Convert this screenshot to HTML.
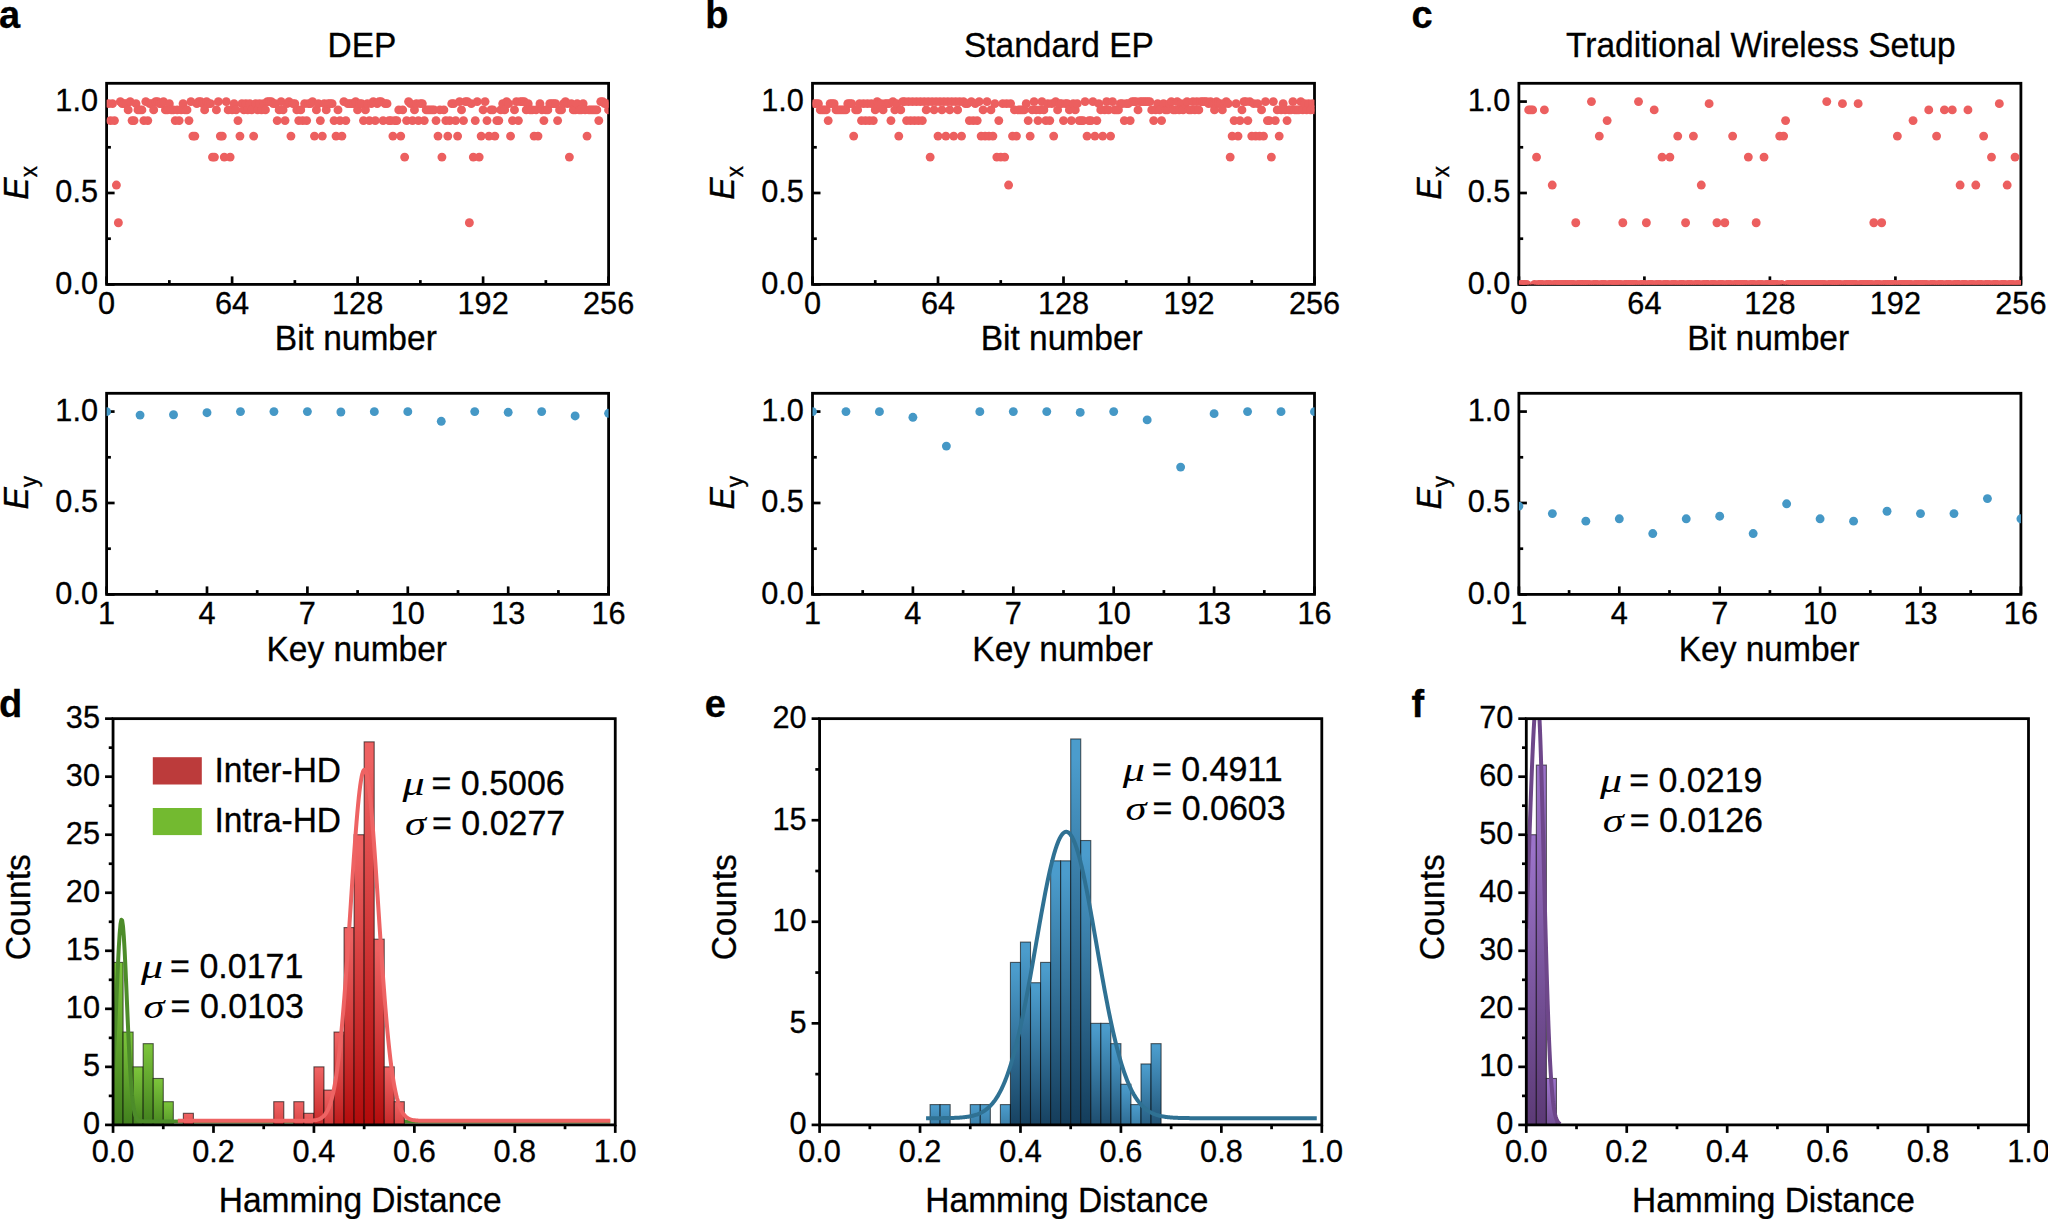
<!DOCTYPE html>
<html lang="en"><head><meta charset="utf-8"><title>Figure</title>
<style>html,body{margin:0;padding:0;background:#fff}svg{display:block}</style>
</head><body>
<svg width="2048" height="1219" viewBox="0 0 2048 1219" font-family='"Liberation Sans", sans-serif' fill="#000">
<rect width="2048" height="1219" fill="#fff"/>
<text transform="translate(-1.0,28.0) scale(1,1.02)" font-size="38" text-anchor="start" stroke="#000" stroke-width="0.3" font-weight="bold">a</text>
<text transform="translate(705.2,28.0) scale(1,1.02)" font-size="38" text-anchor="start" stroke="#000" stroke-width="0.3" font-weight="bold">b</text>
<text transform="translate(1411.5,28.0) scale(1,1.02)" font-size="38" text-anchor="start" stroke="#000" stroke-width="0.3" font-weight="bold">c</text>
<text transform="translate(-1.0,717.2) scale(1,1.02)" font-size="38" text-anchor="start" stroke="#000" stroke-width="0.3" font-weight="bold">d</text>
<text transform="translate(704.8,717.2) scale(1,1.02)" font-size="38" text-anchor="start" stroke="#000" stroke-width="0.3" font-weight="bold">e</text>
<text transform="translate(1411.5,717.2) scale(1,1.02)" font-size="38" text-anchor="start" stroke="#000" stroke-width="0.3" font-weight="bold">f</text>
<text transform="translate(362.0,57.1) scale(1,1.02)" font-size="33.5" text-anchor="middle" stroke="#000" stroke-width="0.3" >DEP</text>
<rect x="106.60" y="83.30" width="502.00" height="201.10" fill="none" stroke="#000" stroke-width="2.8"/>
<line x1="106.60" x2="106.60" y1="284.40" y2="276.40" stroke="#000" stroke-width="2.7"/>
<line x1="232.10" x2="232.10" y1="284.40" y2="276.40" stroke="#000" stroke-width="2.7"/>
<line x1="357.60" x2="357.60" y1="284.40" y2="276.40" stroke="#000" stroke-width="2.7"/>
<line x1="483.10" x2="483.10" y1="284.40" y2="276.40" stroke="#000" stroke-width="2.7"/>
<line x1="608.60" x2="608.60" y1="284.40" y2="276.40" stroke="#000" stroke-width="2.7"/>
<line x1="169.35" x2="169.35" y1="284.40" y2="280.10" stroke="#000" stroke-width="2.7"/>
<line x1="294.85" x2="294.85" y1="284.40" y2="280.10" stroke="#000" stroke-width="2.7"/>
<line x1="420.35" x2="420.35" y1="284.40" y2="280.10" stroke="#000" stroke-width="2.7"/>
<line x1="545.85" x2="545.85" y1="284.40" y2="280.10" stroke="#000" stroke-width="2.7"/>
<text transform="translate(106.6,313.5) scale(1,1.035)" font-size="30.7" text-anchor="middle" stroke="#000" stroke-width="0.3" >0</text>
<text transform="translate(232.1,313.5) scale(1,1.035)" font-size="30.7" text-anchor="middle" stroke="#000" stroke-width="0.3" >64</text>
<text transform="translate(357.6,313.5) scale(1,1.035)" font-size="30.7" text-anchor="middle" stroke="#000" stroke-width="0.3" >128</text>
<text transform="translate(483.1,313.5) scale(1,1.035)" font-size="30.7" text-anchor="middle" stroke="#000" stroke-width="0.3" >192</text>
<text transform="translate(608.6,313.5) scale(1,1.035)" font-size="30.7" text-anchor="middle" stroke="#000" stroke-width="0.3" >256</text>
<line x1="106.60" x2="114.60" y1="284.40" y2="284.40" stroke="#000" stroke-width="2.7"/>
<line x1="106.60" x2="114.60" y1="192.99" y2="192.99" stroke="#000" stroke-width="2.7"/>
<line x1="106.60" x2="114.60" y1="101.58" y2="101.58" stroke="#000" stroke-width="2.7"/>
<line x1="106.60" x2="110.90" y1="238.70" y2="238.70" stroke="#000" stroke-width="2.7"/>
<line x1="106.60" x2="110.90" y1="147.29" y2="147.29" stroke="#000" stroke-width="2.7"/>
<text transform="translate(98.0,293.7) scale(1,1.035)" font-size="30.7" text-anchor="end" stroke="#000" stroke-width="0.3" >0.0</text>
<text transform="translate(98.0,202.3) scale(1,1.035)" font-size="30.7" text-anchor="end" stroke="#000" stroke-width="0.3" >0.5</text>
<text transform="translate(98.0,110.9) scale(1,1.035)" font-size="30.7" text-anchor="end" stroke="#000" stroke-width="0.3" >1.0</text>
<clipPath id="c1"><rect x="106.60" y="83.30" width="502.00" height="201.10"/></clipPath>
<g clip-path="url(#c1)" fill="#EC5F5F">
<circle cx="108.56" cy="103.65" r="4.45"/>
<circle cx="110.52" cy="120.59" r="4.45"/>
<circle cx="112.48" cy="103.65" r="4.45"/>
<circle cx="114.44" cy="120.59" r="4.45"/>
<circle cx="116.40" cy="185.03" r="4.45"/>
<circle cx="118.37" cy="222.74" r="4.45"/>
<circle cx="120.33" cy="101.58" r="4.45"/>
<circle cx="122.29" cy="103.65" r="4.45"/>
<circle cx="124.25" cy="103.65" r="4.45"/>
<circle cx="126.21" cy="103.65" r="4.45"/>
<circle cx="128.17" cy="109.91" r="4.45"/>
<circle cx="130.13" cy="101.58" r="4.45"/>
<circle cx="132.09" cy="120.59" r="4.45"/>
<circle cx="134.05" cy="120.59" r="4.45"/>
<circle cx="136.01" cy="103.65" r="4.45"/>
<circle cx="137.97" cy="109.91" r="4.45"/>
<circle cx="139.94" cy="109.91" r="4.45"/>
<circle cx="141.90" cy="109.91" r="4.45"/>
<circle cx="143.86" cy="120.59" r="4.45"/>
<circle cx="145.82" cy="101.58" r="4.45"/>
<circle cx="147.78" cy="120.59" r="4.45"/>
<circle cx="149.74" cy="103.65" r="4.45"/>
<circle cx="151.70" cy="103.65" r="4.45"/>
<circle cx="153.66" cy="109.91" r="4.45"/>
<circle cx="155.62" cy="101.58" r="4.45"/>
<circle cx="157.58" cy="101.58" r="4.45"/>
<circle cx="159.55" cy="103.65" r="4.45"/>
<circle cx="161.51" cy="103.65" r="4.45"/>
<circle cx="163.47" cy="101.58" r="4.45"/>
<circle cx="165.43" cy="109.91" r="4.45"/>
<circle cx="167.39" cy="109.91" r="4.45"/>
<circle cx="169.35" cy="103.65" r="4.45"/>
<circle cx="171.31" cy="109.91" r="4.45"/>
<circle cx="173.27" cy="109.91" r="4.45"/>
<circle cx="175.23" cy="120.59" r="4.45"/>
<circle cx="177.19" cy="109.91" r="4.45"/>
<circle cx="179.15" cy="120.59" r="4.45"/>
<circle cx="181.12" cy="109.91" r="4.45"/>
<circle cx="183.08" cy="103.65" r="4.45"/>
<circle cx="185.04" cy="109.91" r="4.45"/>
<circle cx="187.00" cy="109.91" r="4.45"/>
<circle cx="188.96" cy="120.59" r="4.45"/>
<circle cx="190.92" cy="101.58" r="4.45"/>
<circle cx="192.88" cy="136.08" r="4.45"/>
<circle cx="194.84" cy="136.08" r="4.45"/>
<circle cx="196.80" cy="103.65" r="4.45"/>
<circle cx="198.76" cy="101.58" r="4.45"/>
<circle cx="200.72" cy="101.58" r="4.45"/>
<circle cx="202.69" cy="103.65" r="4.45"/>
<circle cx="204.65" cy="109.91" r="4.45"/>
<circle cx="206.61" cy="101.58" r="4.45"/>
<circle cx="208.57" cy="103.65" r="4.45"/>
<circle cx="210.53" cy="103.65" r="4.45"/>
<circle cx="212.49" cy="157.12" r="4.45"/>
<circle cx="214.45" cy="157.12" r="4.45"/>
<circle cx="216.41" cy="109.91" r="4.45"/>
<circle cx="218.37" cy="101.58" r="4.45"/>
<circle cx="220.33" cy="136.08" r="4.45"/>
<circle cx="222.30" cy="136.08" r="4.45"/>
<circle cx="224.26" cy="157.12" r="4.45"/>
<circle cx="226.22" cy="101.58" r="4.45"/>
<circle cx="228.18" cy="109.91" r="4.45"/>
<circle cx="230.14" cy="157.12" r="4.45"/>
<circle cx="232.10" cy="109.91" r="4.45"/>
<circle cx="234.06" cy="103.65" r="4.45"/>
<circle cx="236.02" cy="109.91" r="4.45"/>
<circle cx="237.98" cy="120.59" r="4.45"/>
<circle cx="239.94" cy="136.08" r="4.45"/>
<circle cx="241.90" cy="103.65" r="4.45"/>
<circle cx="243.87" cy="109.91" r="4.45"/>
<circle cx="245.83" cy="103.65" r="4.45"/>
<circle cx="247.79" cy="109.91" r="4.45"/>
<circle cx="249.75" cy="103.65" r="4.45"/>
<circle cx="251.71" cy="109.91" r="4.45"/>
<circle cx="253.67" cy="136.08" r="4.45"/>
<circle cx="255.63" cy="103.65" r="4.45"/>
<circle cx="257.59" cy="109.91" r="4.45"/>
<circle cx="259.55" cy="103.65" r="4.45"/>
<circle cx="261.51" cy="109.91" r="4.45"/>
<circle cx="263.48" cy="103.65" r="4.45"/>
<circle cx="265.44" cy="109.91" r="4.45"/>
<circle cx="267.40" cy="101.58" r="4.45"/>
<circle cx="269.36" cy="101.58" r="4.45"/>
<circle cx="271.32" cy="101.58" r="4.45"/>
<circle cx="273.28" cy="103.65" r="4.45"/>
<circle cx="275.24" cy="103.65" r="4.45"/>
<circle cx="277.20" cy="120.59" r="4.45"/>
<circle cx="279.16" cy="109.91" r="4.45"/>
<circle cx="281.12" cy="101.58" r="4.45"/>
<circle cx="283.08" cy="109.91" r="4.45"/>
<circle cx="285.05" cy="120.59" r="4.45"/>
<circle cx="287.01" cy="103.65" r="4.45"/>
<circle cx="288.97" cy="101.58" r="4.45"/>
<circle cx="290.93" cy="136.08" r="4.45"/>
<circle cx="292.89" cy="103.65" r="4.45"/>
<circle cx="294.85" cy="103.65" r="4.45"/>
<circle cx="296.81" cy="109.91" r="4.45"/>
<circle cx="298.77" cy="120.59" r="4.45"/>
<circle cx="300.73" cy="109.91" r="4.45"/>
<circle cx="302.69" cy="120.59" r="4.45"/>
<circle cx="304.65" cy="103.65" r="4.45"/>
<circle cx="306.62" cy="120.59" r="4.45"/>
<circle cx="308.58" cy="103.65" r="4.45"/>
<circle cx="310.54" cy="103.65" r="4.45"/>
<circle cx="312.50" cy="101.58" r="4.45"/>
<circle cx="314.46" cy="136.08" r="4.45"/>
<circle cx="316.42" cy="109.91" r="4.45"/>
<circle cx="318.38" cy="103.65" r="4.45"/>
<circle cx="320.34" cy="120.59" r="4.45"/>
<circle cx="322.30" cy="136.08" r="4.45"/>
<circle cx="324.26" cy="103.65" r="4.45"/>
<circle cx="326.23" cy="109.91" r="4.45"/>
<circle cx="328.19" cy="103.65" r="4.45"/>
<circle cx="330.15" cy="103.65" r="4.45"/>
<circle cx="332.11" cy="103.65" r="4.45"/>
<circle cx="334.07" cy="120.59" r="4.45"/>
<circle cx="336.03" cy="136.08" r="4.45"/>
<circle cx="337.99" cy="109.91" r="4.45"/>
<circle cx="339.95" cy="120.59" r="4.45"/>
<circle cx="341.91" cy="136.08" r="4.45"/>
<circle cx="343.87" cy="101.58" r="4.45"/>
<circle cx="345.83" cy="120.59" r="4.45"/>
<circle cx="347.80" cy="103.65" r="4.45"/>
<circle cx="349.76" cy="103.65" r="4.45"/>
<circle cx="351.72" cy="103.65" r="4.45"/>
<circle cx="353.68" cy="103.65" r="4.45"/>
<circle cx="355.64" cy="101.58" r="4.45"/>
<circle cx="357.60" cy="109.91" r="4.45"/>
<circle cx="359.56" cy="103.65" r="4.45"/>
<circle cx="361.52" cy="103.65" r="4.45"/>
<circle cx="363.48" cy="120.59" r="4.45"/>
<circle cx="365.44" cy="109.91" r="4.45"/>
<circle cx="367.40" cy="103.65" r="4.45"/>
<circle cx="369.37" cy="120.59" r="4.45"/>
<circle cx="371.33" cy="103.65" r="4.45"/>
<circle cx="373.29" cy="101.58" r="4.45"/>
<circle cx="375.25" cy="120.59" r="4.45"/>
<circle cx="377.21" cy="103.65" r="4.45"/>
<circle cx="379.17" cy="101.58" r="4.45"/>
<circle cx="381.13" cy="101.58" r="4.45"/>
<circle cx="383.09" cy="120.59" r="4.45"/>
<circle cx="385.05" cy="103.65" r="4.45"/>
<circle cx="387.01" cy="103.65" r="4.45"/>
<circle cx="388.98" cy="120.59" r="4.45"/>
<circle cx="390.94" cy="120.59" r="4.45"/>
<circle cx="392.90" cy="136.08" r="4.45"/>
<circle cx="394.86" cy="120.59" r="4.45"/>
<circle cx="396.82" cy="120.59" r="4.45"/>
<circle cx="398.78" cy="109.91" r="4.45"/>
<circle cx="400.74" cy="136.08" r="4.45"/>
<circle cx="402.70" cy="109.91" r="4.45"/>
<circle cx="404.66" cy="157.12" r="4.45"/>
<circle cx="406.62" cy="120.59" r="4.45"/>
<circle cx="408.58" cy="101.58" r="4.45"/>
<circle cx="410.55" cy="103.65" r="4.45"/>
<circle cx="412.51" cy="120.59" r="4.45"/>
<circle cx="414.47" cy="109.91" r="4.45"/>
<circle cx="416.43" cy="103.65" r="4.45"/>
<circle cx="418.39" cy="120.59" r="4.45"/>
<circle cx="420.35" cy="103.65" r="4.45"/>
<circle cx="422.31" cy="103.65" r="4.45"/>
<circle cx="424.27" cy="120.59" r="4.45"/>
<circle cx="426.23" cy="109.91" r="4.45"/>
<circle cx="428.19" cy="109.91" r="4.45"/>
<circle cx="430.15" cy="109.91" r="4.45"/>
<circle cx="432.12" cy="109.91" r="4.45"/>
<circle cx="434.08" cy="109.91" r="4.45"/>
<circle cx="436.04" cy="120.59" r="4.45"/>
<circle cx="438.00" cy="136.08" r="4.45"/>
<circle cx="439.96" cy="109.91" r="4.45"/>
<circle cx="441.92" cy="157.12" r="4.45"/>
<circle cx="443.88" cy="109.91" r="4.45"/>
<circle cx="445.84" cy="120.59" r="4.45"/>
<circle cx="447.80" cy="136.08" r="4.45"/>
<circle cx="449.76" cy="120.59" r="4.45"/>
<circle cx="451.73" cy="103.65" r="4.45"/>
<circle cx="453.69" cy="103.65" r="4.45"/>
<circle cx="455.65" cy="120.59" r="4.45"/>
<circle cx="457.61" cy="136.08" r="4.45"/>
<circle cx="459.57" cy="101.58" r="4.45"/>
<circle cx="461.53" cy="109.91" r="4.45"/>
<circle cx="463.49" cy="120.59" r="4.45"/>
<circle cx="465.45" cy="101.58" r="4.45"/>
<circle cx="467.41" cy="101.58" r="4.45"/>
<circle cx="469.37" cy="222.74" r="4.45"/>
<circle cx="471.33" cy="103.65" r="4.45"/>
<circle cx="473.30" cy="157.12" r="4.45"/>
<circle cx="475.26" cy="120.59" r="4.45"/>
<circle cx="477.22" cy="101.58" r="4.45"/>
<circle cx="479.18" cy="157.12" r="4.45"/>
<circle cx="481.14" cy="136.08" r="4.45"/>
<circle cx="483.10" cy="109.91" r="4.45"/>
<circle cx="485.06" cy="101.58" r="4.45"/>
<circle cx="487.02" cy="120.59" r="4.45"/>
<circle cx="488.98" cy="136.08" r="4.45"/>
<circle cx="490.94" cy="109.91" r="4.45"/>
<circle cx="492.90" cy="109.91" r="4.45"/>
<circle cx="494.87" cy="136.08" r="4.45"/>
<circle cx="496.83" cy="120.59" r="4.45"/>
<circle cx="498.79" cy="120.59" r="4.45"/>
<circle cx="500.75" cy="109.91" r="4.45"/>
<circle cx="502.71" cy="103.65" r="4.45"/>
<circle cx="504.67" cy="109.91" r="4.45"/>
<circle cx="506.63" cy="101.58" r="4.45"/>
<circle cx="508.59" cy="103.65" r="4.45"/>
<circle cx="510.55" cy="136.08" r="4.45"/>
<circle cx="512.51" cy="120.59" r="4.45"/>
<circle cx="514.48" cy="109.91" r="4.45"/>
<circle cx="516.44" cy="101.58" r="4.45"/>
<circle cx="518.40" cy="120.59" r="4.45"/>
<circle cx="520.36" cy="101.58" r="4.45"/>
<circle cx="522.32" cy="101.58" r="4.45"/>
<circle cx="524.28" cy="101.58" r="4.45"/>
<circle cx="526.24" cy="109.91" r="4.45"/>
<circle cx="528.20" cy="103.65" r="4.45"/>
<circle cx="530.16" cy="109.91" r="4.45"/>
<circle cx="532.12" cy="109.91" r="4.45"/>
<circle cx="534.08" cy="136.08" r="4.45"/>
<circle cx="536.05" cy="109.91" r="4.45"/>
<circle cx="538.01" cy="136.08" r="4.45"/>
<circle cx="539.97" cy="103.65" r="4.45"/>
<circle cx="541.93" cy="109.91" r="4.45"/>
<circle cx="543.89" cy="120.59" r="4.45"/>
<circle cx="545.85" cy="109.91" r="4.45"/>
<circle cx="547.81" cy="109.91" r="4.45"/>
<circle cx="549.77" cy="103.65" r="4.45"/>
<circle cx="551.73" cy="103.65" r="4.45"/>
<circle cx="553.69" cy="103.65" r="4.45"/>
<circle cx="555.65" cy="103.65" r="4.45"/>
<circle cx="557.62" cy="120.59" r="4.45"/>
<circle cx="559.58" cy="109.91" r="4.45"/>
<circle cx="561.54" cy="109.91" r="4.45"/>
<circle cx="563.50" cy="103.65" r="4.45"/>
<circle cx="565.46" cy="101.58" r="4.45"/>
<circle cx="567.42" cy="103.65" r="4.45"/>
<circle cx="569.38" cy="157.12" r="4.45"/>
<circle cx="571.34" cy="103.65" r="4.45"/>
<circle cx="573.30" cy="109.91" r="4.45"/>
<circle cx="575.26" cy="109.91" r="4.45"/>
<circle cx="577.23" cy="103.65" r="4.45"/>
<circle cx="579.19" cy="109.91" r="4.45"/>
<circle cx="581.15" cy="109.91" r="4.45"/>
<circle cx="583.11" cy="103.65" r="4.45"/>
<circle cx="585.07" cy="109.91" r="4.45"/>
<circle cx="587.03" cy="136.08" r="4.45"/>
<circle cx="588.99" cy="109.91" r="4.45"/>
<circle cx="590.95" cy="109.91" r="4.45"/>
<circle cx="592.91" cy="109.91" r="4.45"/>
<circle cx="594.87" cy="109.91" r="4.45"/>
<circle cx="596.83" cy="109.91" r="4.45"/>
<circle cx="598.80" cy="120.59" r="4.45"/>
<circle cx="600.76" cy="101.58" r="4.45"/>
<circle cx="602.72" cy="101.58" r="4.45"/>
<circle cx="604.68" cy="103.65" r="4.45"/>
<circle cx="606.64" cy="103.65" r="4.45"/>
<circle cx="608.60" cy="109.91" r="4.45"/>
</g>
<text transform="translate(355.8,349.9) scale(1,1.02)" font-size="33.5" text-anchor="middle" stroke="#000" stroke-width="0.3" >Bit number</text>
<text transform="translate(28.4,182.9) rotate(-90) scale(1,1.03)" font-size="33.5" text-anchor="middle" stroke="#000" stroke-width="0.3"><tspan font-style="italic">E</tspan><tspan font-size="22.5" dy="8.2">x</tspan></text>
<rect x="106.60" y="393.30" width="502.00" height="201.10" fill="none" stroke="#000" stroke-width="2.8"/>
<line x1="106.60" x2="106.60" y1="594.40" y2="586.40" stroke="#000" stroke-width="2.7"/>
<line x1="207.00" x2="207.00" y1="594.40" y2="586.40" stroke="#000" stroke-width="2.7"/>
<line x1="307.40" x2="307.40" y1="594.40" y2="586.40" stroke="#000" stroke-width="2.7"/>
<line x1="407.80" x2="407.80" y1="594.40" y2="586.40" stroke="#000" stroke-width="2.7"/>
<line x1="508.20" x2="508.20" y1="594.40" y2="586.40" stroke="#000" stroke-width="2.7"/>
<line x1="608.60" x2="608.60" y1="594.40" y2="586.40" stroke="#000" stroke-width="2.7"/>
<line x1="156.80" x2="156.80" y1="594.40" y2="590.10" stroke="#000" stroke-width="2.7"/>
<line x1="257.20" x2="257.20" y1="594.40" y2="590.10" stroke="#000" stroke-width="2.7"/>
<line x1="357.60" x2="357.60" y1="594.40" y2="590.10" stroke="#000" stroke-width="2.7"/>
<line x1="458.00" x2="458.00" y1="594.40" y2="590.10" stroke="#000" stroke-width="2.7"/>
<line x1="558.40" x2="558.40" y1="594.40" y2="590.10" stroke="#000" stroke-width="2.7"/>
<text transform="translate(106.6,623.5) scale(1,1.035)" font-size="30.7" text-anchor="middle" stroke="#000" stroke-width="0.3" >1</text>
<text transform="translate(207.0,623.5) scale(1,1.035)" font-size="30.7" text-anchor="middle" stroke="#000" stroke-width="0.3" >4</text>
<text transform="translate(307.4,623.5) scale(1,1.035)" font-size="30.7" text-anchor="middle" stroke="#000" stroke-width="0.3" >7</text>
<text transform="translate(407.8,623.5) scale(1,1.035)" font-size="30.7" text-anchor="middle" stroke="#000" stroke-width="0.3" >10</text>
<text transform="translate(508.2,623.5) scale(1,1.035)" font-size="30.7" text-anchor="middle" stroke="#000" stroke-width="0.3" >13</text>
<text transform="translate(608.6,623.5) scale(1,1.035)" font-size="30.7" text-anchor="middle" stroke="#000" stroke-width="0.3" >16</text>
<line x1="106.60" x2="114.60" y1="594.40" y2="594.40" stroke="#000" stroke-width="2.7"/>
<line x1="106.60" x2="114.60" y1="502.99" y2="502.99" stroke="#000" stroke-width="2.7"/>
<line x1="106.60" x2="114.60" y1="411.58" y2="411.58" stroke="#000" stroke-width="2.7"/>
<line x1="106.60" x2="110.90" y1="548.70" y2="548.70" stroke="#000" stroke-width="2.7"/>
<line x1="106.60" x2="110.90" y1="457.29" y2="457.29" stroke="#000" stroke-width="2.7"/>
<text transform="translate(98.0,603.7) scale(1,1.035)" font-size="30.7" text-anchor="end" stroke="#000" stroke-width="0.3" >0.0</text>
<text transform="translate(98.0,512.3) scale(1,1.035)" font-size="30.7" text-anchor="end" stroke="#000" stroke-width="0.3" >0.5</text>
<text transform="translate(98.0,420.9) scale(1,1.035)" font-size="30.7" text-anchor="end" stroke="#000" stroke-width="0.3" >1.0</text>
<clipPath id="c2"><rect x="106.60" y="393.30" width="502.00" height="201.10"/></clipPath>
<g clip-path="url(#c2)" fill="#4598C6">
<circle cx="106.60" cy="411.65" r="4.45"/>
<circle cx="140.07" cy="415.09" r="4.45"/>
<circle cx="173.53" cy="414.76" r="4.45"/>
<circle cx="207.00" cy="412.68" r="4.45"/>
<circle cx="240.47" cy="411.58" r="4.45"/>
<circle cx="273.93" cy="411.58" r="4.45"/>
<circle cx="307.40" cy="411.58" r="4.45"/>
<circle cx="340.87" cy="411.98" r="4.45"/>
<circle cx="374.33" cy="411.65" r="4.45"/>
<circle cx="407.80" cy="411.65" r="4.45"/>
<circle cx="441.27" cy="421.31" r="4.45"/>
<circle cx="474.73" cy="411.58" r="4.45"/>
<circle cx="508.20" cy="412.31" r="4.45"/>
<circle cx="541.67" cy="411.58" r="4.45"/>
<circle cx="575.13" cy="415.97" r="4.45"/>
<circle cx="608.60" cy="413.32" r="4.45"/>
</g>
<text transform="translate(356.7,661.2) scale(1,1.02)" font-size="33.5" text-anchor="middle" stroke="#000" stroke-width="0.3" >Key number</text>
<text transform="translate(28.4,492.7) rotate(-90) scale(1,1.03)" font-size="33.5" text-anchor="middle" stroke="#000" stroke-width="0.3"><tspan font-style="italic">E</tspan><tspan font-size="22.5" dy="8.2">y</tspan></text>
<text transform="translate(1058.9,57.1) scale(1,1.02)" font-size="33.5" text-anchor="middle" stroke="#000" stroke-width="0.3" >Standard EP</text>
<rect x="812.50" y="83.30" width="502.00" height="201.10" fill="none" stroke="#000" stroke-width="2.8"/>
<line x1="812.50" x2="812.50" y1="284.40" y2="276.40" stroke="#000" stroke-width="2.7"/>
<line x1="938.00" x2="938.00" y1="284.40" y2="276.40" stroke="#000" stroke-width="2.7"/>
<line x1="1063.50" x2="1063.50" y1="284.40" y2="276.40" stroke="#000" stroke-width="2.7"/>
<line x1="1189.00" x2="1189.00" y1="284.40" y2="276.40" stroke="#000" stroke-width="2.7"/>
<line x1="1314.50" x2="1314.50" y1="284.40" y2="276.40" stroke="#000" stroke-width="2.7"/>
<line x1="875.25" x2="875.25" y1="284.40" y2="280.10" stroke="#000" stroke-width="2.7"/>
<line x1="1000.75" x2="1000.75" y1="284.40" y2="280.10" stroke="#000" stroke-width="2.7"/>
<line x1="1126.25" x2="1126.25" y1="284.40" y2="280.10" stroke="#000" stroke-width="2.7"/>
<line x1="1251.75" x2="1251.75" y1="284.40" y2="280.10" stroke="#000" stroke-width="2.7"/>
<text transform="translate(812.5,313.5) scale(1,1.035)" font-size="30.7" text-anchor="middle" stroke="#000" stroke-width="0.3" >0</text>
<text transform="translate(938.0,313.5) scale(1,1.035)" font-size="30.7" text-anchor="middle" stroke="#000" stroke-width="0.3" >64</text>
<text transform="translate(1063.5,313.5) scale(1,1.035)" font-size="30.7" text-anchor="middle" stroke="#000" stroke-width="0.3" >128</text>
<text transform="translate(1189.0,313.5) scale(1,1.035)" font-size="30.7" text-anchor="middle" stroke="#000" stroke-width="0.3" >192</text>
<text transform="translate(1314.5,313.5) scale(1,1.035)" font-size="30.7" text-anchor="middle" stroke="#000" stroke-width="0.3" >256</text>
<line x1="812.50" x2="820.50" y1="284.40" y2="284.40" stroke="#000" stroke-width="2.7"/>
<line x1="812.50" x2="820.50" y1="192.99" y2="192.99" stroke="#000" stroke-width="2.7"/>
<line x1="812.50" x2="820.50" y1="101.58" y2="101.58" stroke="#000" stroke-width="2.7"/>
<line x1="812.50" x2="816.80" y1="238.70" y2="238.70" stroke="#000" stroke-width="2.7"/>
<line x1="812.50" x2="816.80" y1="147.29" y2="147.29" stroke="#000" stroke-width="2.7"/>
<text transform="translate(803.9,293.7) scale(1,1.035)" font-size="30.7" text-anchor="end" stroke="#000" stroke-width="0.3" >0.0</text>
<text transform="translate(803.9,202.3) scale(1,1.035)" font-size="30.7" text-anchor="end" stroke="#000" stroke-width="0.3" >0.5</text>
<text transform="translate(803.9,110.9) scale(1,1.035)" font-size="30.7" text-anchor="end" stroke="#000" stroke-width="0.3" >1.0</text>
<clipPath id="c3"><rect x="812.50" y="83.30" width="502.00" height="201.10"/></clipPath>
<g clip-path="url(#c3)" fill="#EC5F5F">
<circle cx="814.46" cy="103.65" r="4.45"/>
<circle cx="816.42" cy="103.65" r="4.45"/>
<circle cx="818.38" cy="103.65" r="4.45"/>
<circle cx="820.34" cy="109.91" r="4.45"/>
<circle cx="822.30" cy="109.91" r="4.45"/>
<circle cx="824.27" cy="109.91" r="4.45"/>
<circle cx="826.23" cy="109.91" r="4.45"/>
<circle cx="828.19" cy="120.59" r="4.45"/>
<circle cx="830.15" cy="103.65" r="4.45"/>
<circle cx="832.11" cy="103.65" r="4.45"/>
<circle cx="834.07" cy="103.65" r="4.45"/>
<circle cx="836.03" cy="109.91" r="4.45"/>
<circle cx="837.99" cy="109.91" r="4.45"/>
<circle cx="839.95" cy="109.91" r="4.45"/>
<circle cx="841.91" cy="109.91" r="4.45"/>
<circle cx="843.88" cy="109.91" r="4.45"/>
<circle cx="845.84" cy="109.91" r="4.45"/>
<circle cx="847.80" cy="103.65" r="4.45"/>
<circle cx="849.76" cy="103.65" r="4.45"/>
<circle cx="851.72" cy="103.65" r="4.45"/>
<circle cx="853.68" cy="136.08" r="4.45"/>
<circle cx="855.64" cy="109.91" r="4.45"/>
<circle cx="857.60" cy="109.91" r="4.45"/>
<circle cx="859.56" cy="103.65" r="4.45"/>
<circle cx="861.52" cy="120.59" r="4.45"/>
<circle cx="863.48" cy="103.65" r="4.45"/>
<circle cx="865.45" cy="120.59" r="4.45"/>
<circle cx="867.41" cy="103.65" r="4.45"/>
<circle cx="869.37" cy="120.59" r="4.45"/>
<circle cx="871.33" cy="103.65" r="4.45"/>
<circle cx="873.29" cy="120.59" r="4.45"/>
<circle cx="875.25" cy="109.91" r="4.45"/>
<circle cx="877.21" cy="101.58" r="4.45"/>
<circle cx="879.17" cy="103.65" r="4.45"/>
<circle cx="881.13" cy="103.65" r="4.45"/>
<circle cx="883.09" cy="109.91" r="4.45"/>
<circle cx="885.05" cy="103.65" r="4.45"/>
<circle cx="887.02" cy="103.65" r="4.45"/>
<circle cx="888.98" cy="103.65" r="4.45"/>
<circle cx="890.94" cy="120.59" r="4.45"/>
<circle cx="892.90" cy="101.58" r="4.45"/>
<circle cx="894.86" cy="109.91" r="4.45"/>
<circle cx="896.82" cy="103.65" r="4.45"/>
<circle cx="898.78" cy="136.08" r="4.45"/>
<circle cx="900.74" cy="109.91" r="4.45"/>
<circle cx="902.70" cy="101.58" r="4.45"/>
<circle cx="904.66" cy="101.58" r="4.45"/>
<circle cx="906.62" cy="120.59" r="4.45"/>
<circle cx="908.59" cy="101.58" r="4.45"/>
<circle cx="910.55" cy="120.59" r="4.45"/>
<circle cx="912.51" cy="101.58" r="4.45"/>
<circle cx="914.47" cy="120.59" r="4.45"/>
<circle cx="916.43" cy="101.58" r="4.45"/>
<circle cx="918.39" cy="120.59" r="4.45"/>
<circle cx="920.35" cy="101.58" r="4.45"/>
<circle cx="922.31" cy="120.59" r="4.45"/>
<circle cx="924.27" cy="101.58" r="4.45"/>
<circle cx="926.23" cy="109.91" r="4.45"/>
<circle cx="928.20" cy="101.58" r="4.45"/>
<circle cx="930.16" cy="157.12" r="4.45"/>
<circle cx="932.12" cy="101.58" r="4.45"/>
<circle cx="934.08" cy="109.91" r="4.45"/>
<circle cx="936.04" cy="101.58" r="4.45"/>
<circle cx="938.00" cy="136.08" r="4.45"/>
<circle cx="939.96" cy="101.58" r="4.45"/>
<circle cx="941.92" cy="109.91" r="4.45"/>
<circle cx="943.88" cy="101.58" r="4.45"/>
<circle cx="945.84" cy="136.08" r="4.45"/>
<circle cx="947.80" cy="101.58" r="4.45"/>
<circle cx="949.77" cy="109.91" r="4.45"/>
<circle cx="951.73" cy="101.58" r="4.45"/>
<circle cx="953.69" cy="136.08" r="4.45"/>
<circle cx="955.65" cy="101.58" r="4.45"/>
<circle cx="957.61" cy="109.91" r="4.45"/>
<circle cx="959.57" cy="101.58" r="4.45"/>
<circle cx="961.53" cy="136.08" r="4.45"/>
<circle cx="963.49" cy="101.58" r="4.45"/>
<circle cx="965.45" cy="103.65" r="4.45"/>
<circle cx="967.41" cy="103.65" r="4.45"/>
<circle cx="969.38" cy="120.59" r="4.45"/>
<circle cx="971.34" cy="101.58" r="4.45"/>
<circle cx="973.30" cy="120.59" r="4.45"/>
<circle cx="975.26" cy="103.65" r="4.45"/>
<circle cx="977.22" cy="120.59" r="4.45"/>
<circle cx="979.18" cy="101.58" r="4.45"/>
<circle cx="981.14" cy="136.08" r="4.45"/>
<circle cx="983.10" cy="109.91" r="4.45"/>
<circle cx="985.06" cy="136.08" r="4.45"/>
<circle cx="987.02" cy="101.58" r="4.45"/>
<circle cx="988.98" cy="136.08" r="4.45"/>
<circle cx="990.95" cy="109.91" r="4.45"/>
<circle cx="992.91" cy="136.08" r="4.45"/>
<circle cx="994.87" cy="103.65" r="4.45"/>
<circle cx="996.83" cy="157.12" r="4.45"/>
<circle cx="998.79" cy="120.59" r="4.45"/>
<circle cx="1000.75" cy="157.12" r="4.45"/>
<circle cx="1002.71" cy="103.65" r="4.45"/>
<circle cx="1004.67" cy="157.12" r="4.45"/>
<circle cx="1006.63" cy="103.65" r="4.45"/>
<circle cx="1008.59" cy="185.03" r="4.45"/>
<circle cx="1010.55" cy="103.65" r="4.45"/>
<circle cx="1012.52" cy="136.08" r="4.45"/>
<circle cx="1014.48" cy="109.91" r="4.45"/>
<circle cx="1016.44" cy="136.08" r="4.45"/>
<circle cx="1018.40" cy="109.91" r="4.45"/>
<circle cx="1020.36" cy="109.91" r="4.45"/>
<circle cx="1022.32" cy="109.91" r="4.45"/>
<circle cx="1024.28" cy="109.91" r="4.45"/>
<circle cx="1026.24" cy="103.65" r="4.45"/>
<circle cx="1028.20" cy="120.59" r="4.45"/>
<circle cx="1030.16" cy="136.08" r="4.45"/>
<circle cx="1032.12" cy="109.91" r="4.45"/>
<circle cx="1034.09" cy="101.58" r="4.45"/>
<circle cx="1036.05" cy="109.91" r="4.45"/>
<circle cx="1038.01" cy="120.59" r="4.45"/>
<circle cx="1039.97" cy="109.91" r="4.45"/>
<circle cx="1041.93" cy="101.58" r="4.45"/>
<circle cx="1043.89" cy="109.91" r="4.45"/>
<circle cx="1045.85" cy="120.59" r="4.45"/>
<circle cx="1047.81" cy="103.65" r="4.45"/>
<circle cx="1049.77" cy="120.59" r="4.45"/>
<circle cx="1051.73" cy="103.65" r="4.45"/>
<circle cx="1053.70" cy="136.08" r="4.45"/>
<circle cx="1055.66" cy="101.58" r="4.45"/>
<circle cx="1057.62" cy="109.91" r="4.45"/>
<circle cx="1059.58" cy="103.65" r="4.45"/>
<circle cx="1061.54" cy="103.65" r="4.45"/>
<circle cx="1063.50" cy="120.59" r="4.45"/>
<circle cx="1065.46" cy="103.65" r="4.45"/>
<circle cx="1067.42" cy="103.65" r="4.45"/>
<circle cx="1069.38" cy="109.91" r="4.45"/>
<circle cx="1071.34" cy="120.59" r="4.45"/>
<circle cx="1073.30" cy="103.65" r="4.45"/>
<circle cx="1075.27" cy="109.91" r="4.45"/>
<circle cx="1077.23" cy="103.65" r="4.45"/>
<circle cx="1079.19" cy="120.59" r="4.45"/>
<circle cx="1081.15" cy="120.59" r="4.45"/>
<circle cx="1083.11" cy="120.59" r="4.45"/>
<circle cx="1085.07" cy="101.58" r="4.45"/>
<circle cx="1087.03" cy="136.08" r="4.45"/>
<circle cx="1088.99" cy="120.59" r="4.45"/>
<circle cx="1090.95" cy="120.59" r="4.45"/>
<circle cx="1092.91" cy="101.58" r="4.45"/>
<circle cx="1094.88" cy="136.08" r="4.45"/>
<circle cx="1096.84" cy="120.59" r="4.45"/>
<circle cx="1098.80" cy="103.65" r="4.45"/>
<circle cx="1100.76" cy="109.91" r="4.45"/>
<circle cx="1102.72" cy="136.08" r="4.45"/>
<circle cx="1104.68" cy="109.91" r="4.45"/>
<circle cx="1106.64" cy="101.58" r="4.45"/>
<circle cx="1108.60" cy="109.91" r="4.45"/>
<circle cx="1110.56" cy="136.08" r="4.45"/>
<circle cx="1112.52" cy="101.58" r="4.45"/>
<circle cx="1114.48" cy="109.91" r="4.45"/>
<circle cx="1116.45" cy="109.91" r="4.45"/>
<circle cx="1118.41" cy="109.91" r="4.45"/>
<circle cx="1120.37" cy="103.65" r="4.45"/>
<circle cx="1122.33" cy="103.65" r="4.45"/>
<circle cx="1124.29" cy="120.59" r="4.45"/>
<circle cx="1126.25" cy="103.65" r="4.45"/>
<circle cx="1128.21" cy="103.65" r="4.45"/>
<circle cx="1130.17" cy="120.59" r="4.45"/>
<circle cx="1132.13" cy="101.58" r="4.45"/>
<circle cx="1134.09" cy="101.58" r="4.45"/>
<circle cx="1136.05" cy="101.58" r="4.45"/>
<circle cx="1138.02" cy="109.91" r="4.45"/>
<circle cx="1139.98" cy="101.58" r="4.45"/>
<circle cx="1141.94" cy="101.58" r="4.45"/>
<circle cx="1143.90" cy="101.58" r="4.45"/>
<circle cx="1145.86" cy="101.58" r="4.45"/>
<circle cx="1147.82" cy="101.58" r="4.45"/>
<circle cx="1149.78" cy="101.58" r="4.45"/>
<circle cx="1151.74" cy="109.91" r="4.45"/>
<circle cx="1153.70" cy="120.59" r="4.45"/>
<circle cx="1155.66" cy="109.91" r="4.45"/>
<circle cx="1157.62" cy="103.65" r="4.45"/>
<circle cx="1159.59" cy="109.91" r="4.45"/>
<circle cx="1161.55" cy="120.59" r="4.45"/>
<circle cx="1163.51" cy="103.65" r="4.45"/>
<circle cx="1165.47" cy="109.91" r="4.45"/>
<circle cx="1167.43" cy="109.91" r="4.45"/>
<circle cx="1169.39" cy="103.65" r="4.45"/>
<circle cx="1171.35" cy="101.58" r="4.45"/>
<circle cx="1173.31" cy="109.91" r="4.45"/>
<circle cx="1175.27" cy="109.91" r="4.45"/>
<circle cx="1177.23" cy="101.58" r="4.45"/>
<circle cx="1179.20" cy="109.91" r="4.45"/>
<circle cx="1181.16" cy="103.65" r="4.45"/>
<circle cx="1183.12" cy="109.91" r="4.45"/>
<circle cx="1185.08" cy="103.65" r="4.45"/>
<circle cx="1187.04" cy="101.58" r="4.45"/>
<circle cx="1189.00" cy="109.91" r="4.45"/>
<circle cx="1190.96" cy="109.91" r="4.45"/>
<circle cx="1192.92" cy="101.58" r="4.45"/>
<circle cx="1194.88" cy="109.91" r="4.45"/>
<circle cx="1196.84" cy="101.58" r="4.45"/>
<circle cx="1198.80" cy="109.91" r="4.45"/>
<circle cx="1200.77" cy="101.58" r="4.45"/>
<circle cx="1202.73" cy="101.58" r="4.45"/>
<circle cx="1204.69" cy="101.58" r="4.45"/>
<circle cx="1206.65" cy="101.58" r="4.45"/>
<circle cx="1208.61" cy="103.65" r="4.45"/>
<circle cx="1210.57" cy="101.58" r="4.45"/>
<circle cx="1212.53" cy="103.65" r="4.45"/>
<circle cx="1214.49" cy="109.91" r="4.45"/>
<circle cx="1216.45" cy="101.58" r="4.45"/>
<circle cx="1218.41" cy="103.65" r="4.45"/>
<circle cx="1220.38" cy="103.65" r="4.45"/>
<circle cx="1222.34" cy="109.91" r="4.45"/>
<circle cx="1224.30" cy="103.65" r="4.45"/>
<circle cx="1226.26" cy="101.58" r="4.45"/>
<circle cx="1228.22" cy="103.65" r="4.45"/>
<circle cx="1230.18" cy="157.12" r="4.45"/>
<circle cx="1232.14" cy="136.08" r="4.45"/>
<circle cx="1234.10" cy="120.59" r="4.45"/>
<circle cx="1236.06" cy="103.65" r="4.45"/>
<circle cx="1238.02" cy="136.08" r="4.45"/>
<circle cx="1239.98" cy="120.59" r="4.45"/>
<circle cx="1241.95" cy="109.91" r="4.45"/>
<circle cx="1243.91" cy="101.58" r="4.45"/>
<circle cx="1245.87" cy="101.58" r="4.45"/>
<circle cx="1247.83" cy="120.59" r="4.45"/>
<circle cx="1249.79" cy="101.58" r="4.45"/>
<circle cx="1251.75" cy="136.08" r="4.45"/>
<circle cx="1253.71" cy="103.65" r="4.45"/>
<circle cx="1255.67" cy="136.08" r="4.45"/>
<circle cx="1257.63" cy="103.65" r="4.45"/>
<circle cx="1259.59" cy="136.08" r="4.45"/>
<circle cx="1261.55" cy="109.91" r="4.45"/>
<circle cx="1263.52" cy="136.08" r="4.45"/>
<circle cx="1265.48" cy="101.58" r="4.45"/>
<circle cx="1267.44" cy="120.59" r="4.45"/>
<circle cx="1269.40" cy="120.59" r="4.45"/>
<circle cx="1271.36" cy="157.12" r="4.45"/>
<circle cx="1273.32" cy="101.58" r="4.45"/>
<circle cx="1275.28" cy="120.59" r="4.45"/>
<circle cx="1277.24" cy="109.91" r="4.45"/>
<circle cx="1279.20" cy="136.08" r="4.45"/>
<circle cx="1281.16" cy="109.91" r="4.45"/>
<circle cx="1283.12" cy="103.65" r="4.45"/>
<circle cx="1285.09" cy="109.91" r="4.45"/>
<circle cx="1287.05" cy="120.59" r="4.45"/>
<circle cx="1289.01" cy="109.91" r="4.45"/>
<circle cx="1290.97" cy="109.91" r="4.45"/>
<circle cx="1292.93" cy="101.58" r="4.45"/>
<circle cx="1294.89" cy="109.91" r="4.45"/>
<circle cx="1296.85" cy="109.91" r="4.45"/>
<circle cx="1298.81" cy="109.91" r="4.45"/>
<circle cx="1300.77" cy="101.58" r="4.45"/>
<circle cx="1302.73" cy="109.91" r="4.45"/>
<circle cx="1304.70" cy="103.65" r="4.45"/>
<circle cx="1306.66" cy="109.91" r="4.45"/>
<circle cx="1308.62" cy="103.65" r="4.45"/>
<circle cx="1310.58" cy="109.91" r="4.45"/>
<circle cx="1312.54" cy="103.65" r="4.45"/>
<circle cx="1314.50" cy="109.91" r="4.45"/>
</g>
<text transform="translate(1061.7,349.9) scale(1,1.02)" font-size="33.5" text-anchor="middle" stroke="#000" stroke-width="0.3" >Bit number</text>
<text transform="translate(734.3,182.9) rotate(-90) scale(1,1.03)" font-size="33.5" text-anchor="middle" stroke="#000" stroke-width="0.3"><tspan font-style="italic">E</tspan><tspan font-size="22.5" dy="8.2">x</tspan></text>
<rect x="812.50" y="393.30" width="502.00" height="201.10" fill="none" stroke="#000" stroke-width="2.8"/>
<line x1="812.50" x2="812.50" y1="594.40" y2="586.40" stroke="#000" stroke-width="2.7"/>
<line x1="912.90" x2="912.90" y1="594.40" y2="586.40" stroke="#000" stroke-width="2.7"/>
<line x1="1013.30" x2="1013.30" y1="594.40" y2="586.40" stroke="#000" stroke-width="2.7"/>
<line x1="1113.70" x2="1113.70" y1="594.40" y2="586.40" stroke="#000" stroke-width="2.7"/>
<line x1="1214.10" x2="1214.10" y1="594.40" y2="586.40" stroke="#000" stroke-width="2.7"/>
<line x1="1314.50" x2="1314.50" y1="594.40" y2="586.40" stroke="#000" stroke-width="2.7"/>
<line x1="862.70" x2="862.70" y1="594.40" y2="590.10" stroke="#000" stroke-width="2.7"/>
<line x1="963.10" x2="963.10" y1="594.40" y2="590.10" stroke="#000" stroke-width="2.7"/>
<line x1="1063.50" x2="1063.50" y1="594.40" y2="590.10" stroke="#000" stroke-width="2.7"/>
<line x1="1163.90" x2="1163.90" y1="594.40" y2="590.10" stroke="#000" stroke-width="2.7"/>
<line x1="1264.30" x2="1264.30" y1="594.40" y2="590.10" stroke="#000" stroke-width="2.7"/>
<text transform="translate(812.5,623.5) scale(1,1.035)" font-size="30.7" text-anchor="middle" stroke="#000" stroke-width="0.3" >1</text>
<text transform="translate(912.9,623.5) scale(1,1.035)" font-size="30.7" text-anchor="middle" stroke="#000" stroke-width="0.3" >4</text>
<text transform="translate(1013.3,623.5) scale(1,1.035)" font-size="30.7" text-anchor="middle" stroke="#000" stroke-width="0.3" >7</text>
<text transform="translate(1113.7,623.5) scale(1,1.035)" font-size="30.7" text-anchor="middle" stroke="#000" stroke-width="0.3" >10</text>
<text transform="translate(1214.1,623.5) scale(1,1.035)" font-size="30.7" text-anchor="middle" stroke="#000" stroke-width="0.3" >13</text>
<text transform="translate(1314.5,623.5) scale(1,1.035)" font-size="30.7" text-anchor="middle" stroke="#000" stroke-width="0.3" >16</text>
<line x1="812.50" x2="820.50" y1="594.40" y2="594.40" stroke="#000" stroke-width="2.7"/>
<line x1="812.50" x2="820.50" y1="502.99" y2="502.99" stroke="#000" stroke-width="2.7"/>
<line x1="812.50" x2="820.50" y1="411.58" y2="411.58" stroke="#000" stroke-width="2.7"/>
<line x1="812.50" x2="816.80" y1="548.70" y2="548.70" stroke="#000" stroke-width="2.7"/>
<line x1="812.50" x2="816.80" y1="457.29" y2="457.29" stroke="#000" stroke-width="2.7"/>
<text transform="translate(803.9,603.7) scale(1,1.035)" font-size="30.7" text-anchor="end" stroke="#000" stroke-width="0.3" >0.0</text>
<text transform="translate(803.9,512.3) scale(1,1.035)" font-size="30.7" text-anchor="end" stroke="#000" stroke-width="0.3" >0.5</text>
<text transform="translate(803.9,420.9) scale(1,1.035)" font-size="30.7" text-anchor="end" stroke="#000" stroke-width="0.3" >1.0</text>
<clipPath id="c4"><rect x="812.50" y="393.30" width="502.00" height="201.10"/></clipPath>
<g clip-path="url(#c4)" fill="#4598C6">
<circle cx="812.50" cy="411.58" r="4.45"/>
<circle cx="845.97" cy="411.58" r="4.45"/>
<circle cx="879.43" cy="411.64" r="4.45"/>
<circle cx="912.90" cy="417.32" r="4.45"/>
<circle cx="946.37" cy="446.08" r="4.45"/>
<circle cx="979.83" cy="411.64" r="4.45"/>
<circle cx="1013.30" cy="411.58" r="4.45"/>
<circle cx="1046.77" cy="411.58" r="4.45"/>
<circle cx="1080.23" cy="412.40" r="4.45"/>
<circle cx="1113.70" cy="411.58" r="4.45"/>
<circle cx="1147.17" cy="419.92" r="4.45"/>
<circle cx="1180.63" cy="467.12" r="4.45"/>
<circle cx="1214.10" cy="413.65" r="4.45"/>
<circle cx="1247.57" cy="411.58" r="4.45"/>
<circle cx="1281.03" cy="411.64" r="4.45"/>
<circle cx="1314.50" cy="411.64" r="4.45"/>
</g>
<text transform="translate(1062.6,661.2) scale(1,1.02)" font-size="33.5" text-anchor="middle" stroke="#000" stroke-width="0.3" >Key number</text>
<text transform="translate(734.3,492.7) rotate(-90) scale(1,1.03)" font-size="33.5" text-anchor="middle" stroke="#000" stroke-width="0.3"><tspan font-style="italic">E</tspan><tspan font-size="22.5" dy="8.2">y</tspan></text>
<text transform="translate(1760.9,57.1) scale(1,1.02)" font-size="33.5" text-anchor="middle" stroke="#000" stroke-width="0.3" >Traditional Wireless Setup</text>
<rect x="1518.90" y="83.30" width="502.00" height="201.10" fill="none" stroke="#000" stroke-width="2.8"/>
<line x1="1518.90" x2="1518.90" y1="284.40" y2="276.40" stroke="#000" stroke-width="2.7"/>
<line x1="1644.40" x2="1644.40" y1="284.40" y2="276.40" stroke="#000" stroke-width="2.7"/>
<line x1="1769.90" x2="1769.90" y1="284.40" y2="276.40" stroke="#000" stroke-width="2.7"/>
<line x1="1895.40" x2="1895.40" y1="284.40" y2="276.40" stroke="#000" stroke-width="2.7"/>
<line x1="2020.90" x2="2020.90" y1="284.40" y2="276.40" stroke="#000" stroke-width="2.7"/>
<line x1="1581.65" x2="1581.65" y1="284.40" y2="280.10" stroke="#000" stroke-width="2.7"/>
<line x1="1707.15" x2="1707.15" y1="284.40" y2="280.10" stroke="#000" stroke-width="2.7"/>
<line x1="1832.65" x2="1832.65" y1="284.40" y2="280.10" stroke="#000" stroke-width="2.7"/>
<line x1="1958.15" x2="1958.15" y1="284.40" y2="280.10" stroke="#000" stroke-width="2.7"/>
<text transform="translate(1518.9,313.5) scale(1,1.035)" font-size="30.7" text-anchor="middle" stroke="#000" stroke-width="0.3" >0</text>
<text transform="translate(1644.4,313.5) scale(1,1.035)" font-size="30.7" text-anchor="middle" stroke="#000" stroke-width="0.3" >64</text>
<text transform="translate(1769.9,313.5) scale(1,1.035)" font-size="30.7" text-anchor="middle" stroke="#000" stroke-width="0.3" >128</text>
<text transform="translate(1895.4,313.5) scale(1,1.035)" font-size="30.7" text-anchor="middle" stroke="#000" stroke-width="0.3" >192</text>
<text transform="translate(2020.9,313.5) scale(1,1.035)" font-size="30.7" text-anchor="middle" stroke="#000" stroke-width="0.3" >256</text>
<line x1="1518.90" x2="1526.90" y1="284.40" y2="284.40" stroke="#000" stroke-width="2.7"/>
<line x1="1518.90" x2="1526.90" y1="192.99" y2="192.99" stroke="#000" stroke-width="2.7"/>
<line x1="1518.90" x2="1526.90" y1="101.58" y2="101.58" stroke="#000" stroke-width="2.7"/>
<line x1="1518.90" x2="1523.20" y1="238.70" y2="238.70" stroke="#000" stroke-width="2.7"/>
<line x1="1518.90" x2="1523.20" y1="147.29" y2="147.29" stroke="#000" stroke-width="2.7"/>
<text transform="translate(1510.3,293.7) scale(1,1.035)" font-size="30.7" text-anchor="end" stroke="#000" stroke-width="0.3" >0.0</text>
<text transform="translate(1510.3,202.3) scale(1,1.035)" font-size="30.7" text-anchor="end" stroke="#000" stroke-width="0.3" >0.5</text>
<text transform="translate(1510.3,110.9) scale(1,1.035)" font-size="30.7" text-anchor="end" stroke="#000" stroke-width="0.3" >1.0</text>
<clipPath id="c5"><rect x="1518.90" y="83.30" width="502.00" height="201.10"/></clipPath>
<g clip-path="url(#c5)" fill="#EC5F5F">
<circle cx="1520.86" cy="284.40" r="4.45"/>
<circle cx="1522.82" cy="284.40" r="4.45"/>
<circle cx="1524.78" cy="284.40" r="4.45"/>
<circle cx="1526.74" cy="284.40" r="4.45"/>
<circle cx="1528.70" cy="109.91" r="4.45"/>
<circle cx="1530.67" cy="109.91" r="4.45"/>
<circle cx="1532.63" cy="109.91" r="4.45"/>
<circle cx="1534.59" cy="284.40" r="4.45"/>
<circle cx="1536.55" cy="157.12" r="4.45"/>
<circle cx="1538.51" cy="284.40" r="4.45"/>
<circle cx="1540.47" cy="284.40" r="4.45"/>
<circle cx="1542.43" cy="284.40" r="4.45"/>
<circle cx="1544.39" cy="109.91" r="4.45"/>
<circle cx="1546.35" cy="284.40" r="4.45"/>
<circle cx="1548.31" cy="284.40" r="4.45"/>
<circle cx="1550.28" cy="284.40" r="4.45"/>
<circle cx="1552.24" cy="185.03" r="4.45"/>
<circle cx="1554.20" cy="284.40" r="4.45"/>
<circle cx="1556.16" cy="284.40" r="4.45"/>
<circle cx="1558.12" cy="284.40" r="4.45"/>
<circle cx="1560.08" cy="284.40" r="4.45"/>
<circle cx="1562.04" cy="284.40" r="4.45"/>
<circle cx="1564.00" cy="284.40" r="4.45"/>
<circle cx="1565.96" cy="284.40" r="4.45"/>
<circle cx="1567.92" cy="284.40" r="4.45"/>
<circle cx="1569.88" cy="284.40" r="4.45"/>
<circle cx="1571.85" cy="284.40" r="4.45"/>
<circle cx="1573.81" cy="284.40" r="4.45"/>
<circle cx="1575.77" cy="222.74" r="4.45"/>
<circle cx="1577.73" cy="284.40" r="4.45"/>
<circle cx="1579.69" cy="284.40" r="4.45"/>
<circle cx="1581.65" cy="284.40" r="4.45"/>
<circle cx="1583.61" cy="284.40" r="4.45"/>
<circle cx="1585.57" cy="284.40" r="4.45"/>
<circle cx="1587.53" cy="284.40" r="4.45"/>
<circle cx="1589.49" cy="284.40" r="4.45"/>
<circle cx="1591.45" cy="101.58" r="4.45"/>
<circle cx="1593.42" cy="284.40" r="4.45"/>
<circle cx="1595.38" cy="284.40" r="4.45"/>
<circle cx="1597.34" cy="284.40" r="4.45"/>
<circle cx="1599.30" cy="136.08" r="4.45"/>
<circle cx="1601.26" cy="284.40" r="4.45"/>
<circle cx="1603.22" cy="284.40" r="4.45"/>
<circle cx="1605.18" cy="284.40" r="4.45"/>
<circle cx="1607.14" cy="120.59" r="4.45"/>
<circle cx="1609.10" cy="284.40" r="4.45"/>
<circle cx="1611.06" cy="284.40" r="4.45"/>
<circle cx="1613.03" cy="284.40" r="4.45"/>
<circle cx="1614.99" cy="284.40" r="4.45"/>
<circle cx="1616.95" cy="284.40" r="4.45"/>
<circle cx="1618.91" cy="284.40" r="4.45"/>
<circle cx="1620.87" cy="284.40" r="4.45"/>
<circle cx="1622.83" cy="222.74" r="4.45"/>
<circle cx="1624.79" cy="284.40" r="4.45"/>
<circle cx="1626.75" cy="284.40" r="4.45"/>
<circle cx="1628.71" cy="284.40" r="4.45"/>
<circle cx="1630.67" cy="284.40" r="4.45"/>
<circle cx="1632.63" cy="284.40" r="4.45"/>
<circle cx="1634.60" cy="284.40" r="4.45"/>
<circle cx="1636.56" cy="284.40" r="4.45"/>
<circle cx="1638.52" cy="101.58" r="4.45"/>
<circle cx="1640.48" cy="284.40" r="4.45"/>
<circle cx="1642.44" cy="284.40" r="4.45"/>
<circle cx="1644.40" cy="284.40" r="4.45"/>
<circle cx="1646.36" cy="222.74" r="4.45"/>
<circle cx="1648.32" cy="284.40" r="4.45"/>
<circle cx="1650.28" cy="284.40" r="4.45"/>
<circle cx="1652.24" cy="284.40" r="4.45"/>
<circle cx="1654.20" cy="109.91" r="4.45"/>
<circle cx="1656.17" cy="284.40" r="4.45"/>
<circle cx="1658.13" cy="284.40" r="4.45"/>
<circle cx="1660.09" cy="284.40" r="4.45"/>
<circle cx="1662.05" cy="157.12" r="4.45"/>
<circle cx="1664.01" cy="284.40" r="4.45"/>
<circle cx="1665.97" cy="284.40" r="4.45"/>
<circle cx="1667.93" cy="284.40" r="4.45"/>
<circle cx="1669.89" cy="157.12" r="4.45"/>
<circle cx="1671.85" cy="284.40" r="4.45"/>
<circle cx="1673.81" cy="284.40" r="4.45"/>
<circle cx="1675.78" cy="284.40" r="4.45"/>
<circle cx="1677.74" cy="136.08" r="4.45"/>
<circle cx="1679.70" cy="284.40" r="4.45"/>
<circle cx="1681.66" cy="284.40" r="4.45"/>
<circle cx="1683.62" cy="284.40" r="4.45"/>
<circle cx="1685.58" cy="222.74" r="4.45"/>
<circle cx="1687.54" cy="284.40" r="4.45"/>
<circle cx="1689.50" cy="284.40" r="4.45"/>
<circle cx="1691.46" cy="284.40" r="4.45"/>
<circle cx="1693.42" cy="136.08" r="4.45"/>
<circle cx="1695.38" cy="284.40" r="4.45"/>
<circle cx="1697.35" cy="284.40" r="4.45"/>
<circle cx="1699.31" cy="284.40" r="4.45"/>
<circle cx="1701.27" cy="185.03" r="4.45"/>
<circle cx="1703.23" cy="284.40" r="4.45"/>
<circle cx="1705.19" cy="284.40" r="4.45"/>
<circle cx="1707.15" cy="284.40" r="4.45"/>
<circle cx="1709.11" cy="103.65" r="4.45"/>
<circle cx="1711.07" cy="284.40" r="4.45"/>
<circle cx="1713.03" cy="284.40" r="4.45"/>
<circle cx="1714.99" cy="284.40" r="4.45"/>
<circle cx="1716.95" cy="222.74" r="4.45"/>
<circle cx="1718.92" cy="284.40" r="4.45"/>
<circle cx="1720.88" cy="284.40" r="4.45"/>
<circle cx="1722.84" cy="284.40" r="4.45"/>
<circle cx="1724.80" cy="222.74" r="4.45"/>
<circle cx="1726.76" cy="284.40" r="4.45"/>
<circle cx="1728.72" cy="284.40" r="4.45"/>
<circle cx="1730.68" cy="284.40" r="4.45"/>
<circle cx="1732.64" cy="136.08" r="4.45"/>
<circle cx="1734.60" cy="284.40" r="4.45"/>
<circle cx="1736.56" cy="284.40" r="4.45"/>
<circle cx="1738.53" cy="284.40" r="4.45"/>
<circle cx="1740.49" cy="284.40" r="4.45"/>
<circle cx="1742.45" cy="284.40" r="4.45"/>
<circle cx="1744.41" cy="284.40" r="4.45"/>
<circle cx="1746.37" cy="284.40" r="4.45"/>
<circle cx="1748.33" cy="157.12" r="4.45"/>
<circle cx="1750.29" cy="284.40" r="4.45"/>
<circle cx="1752.25" cy="284.40" r="4.45"/>
<circle cx="1754.21" cy="284.40" r="4.45"/>
<circle cx="1756.17" cy="222.74" r="4.45"/>
<circle cx="1758.13" cy="284.40" r="4.45"/>
<circle cx="1760.10" cy="284.40" r="4.45"/>
<circle cx="1762.06" cy="284.40" r="4.45"/>
<circle cx="1764.02" cy="157.12" r="4.45"/>
<circle cx="1765.98" cy="284.40" r="4.45"/>
<circle cx="1767.94" cy="284.40" r="4.45"/>
<circle cx="1769.90" cy="284.40" r="4.45"/>
<circle cx="1771.86" cy="284.40" r="4.45"/>
<circle cx="1773.82" cy="284.40" r="4.45"/>
<circle cx="1775.78" cy="284.40" r="4.45"/>
<circle cx="1777.74" cy="284.40" r="4.45"/>
<circle cx="1779.70" cy="136.08" r="4.45"/>
<circle cx="1781.67" cy="284.40" r="4.45"/>
<circle cx="1783.63" cy="136.08" r="4.45"/>
<circle cx="1785.59" cy="120.59" r="4.45"/>
<circle cx="1787.55" cy="284.40" r="4.45"/>
<circle cx="1789.51" cy="284.40" r="4.45"/>
<circle cx="1791.47" cy="284.40" r="4.45"/>
<circle cx="1793.43" cy="284.40" r="4.45"/>
<circle cx="1795.39" cy="284.40" r="4.45"/>
<circle cx="1797.35" cy="284.40" r="4.45"/>
<circle cx="1799.31" cy="284.40" r="4.45"/>
<circle cx="1801.28" cy="284.40" r="4.45"/>
<circle cx="1803.24" cy="284.40" r="4.45"/>
<circle cx="1805.20" cy="284.40" r="4.45"/>
<circle cx="1807.16" cy="284.40" r="4.45"/>
<circle cx="1809.12" cy="284.40" r="4.45"/>
<circle cx="1811.08" cy="284.40" r="4.45"/>
<circle cx="1813.04" cy="284.40" r="4.45"/>
<circle cx="1815.00" cy="284.40" r="4.45"/>
<circle cx="1816.96" cy="284.40" r="4.45"/>
<circle cx="1818.92" cy="284.40" r="4.45"/>
<circle cx="1820.88" cy="284.40" r="4.45"/>
<circle cx="1822.85" cy="284.40" r="4.45"/>
<circle cx="1824.81" cy="284.40" r="4.45"/>
<circle cx="1826.77" cy="101.58" r="4.45"/>
<circle cx="1828.73" cy="284.40" r="4.45"/>
<circle cx="1830.69" cy="284.40" r="4.45"/>
<circle cx="1832.65" cy="284.40" r="4.45"/>
<circle cx="1834.61" cy="284.40" r="4.45"/>
<circle cx="1836.57" cy="284.40" r="4.45"/>
<circle cx="1838.53" cy="284.40" r="4.45"/>
<circle cx="1840.49" cy="284.40" r="4.45"/>
<circle cx="1842.45" cy="103.65" r="4.45"/>
<circle cx="1844.42" cy="284.40" r="4.45"/>
<circle cx="1846.38" cy="284.40" r="4.45"/>
<circle cx="1848.34" cy="284.40" r="4.45"/>
<circle cx="1850.30" cy="284.40" r="4.45"/>
<circle cx="1852.26" cy="284.40" r="4.45"/>
<circle cx="1854.22" cy="284.40" r="4.45"/>
<circle cx="1856.18" cy="284.40" r="4.45"/>
<circle cx="1858.14" cy="103.65" r="4.45"/>
<circle cx="1860.10" cy="284.40" r="4.45"/>
<circle cx="1862.06" cy="284.40" r="4.45"/>
<circle cx="1864.03" cy="284.40" r="4.45"/>
<circle cx="1865.99" cy="284.40" r="4.45"/>
<circle cx="1867.95" cy="284.40" r="4.45"/>
<circle cx="1869.91" cy="284.40" r="4.45"/>
<circle cx="1871.87" cy="284.40" r="4.45"/>
<circle cx="1873.83" cy="222.74" r="4.45"/>
<circle cx="1875.79" cy="284.40" r="4.45"/>
<circle cx="1877.75" cy="284.40" r="4.45"/>
<circle cx="1879.71" cy="284.40" r="4.45"/>
<circle cx="1881.67" cy="222.74" r="4.45"/>
<circle cx="1883.63" cy="284.40" r="4.45"/>
<circle cx="1885.60" cy="284.40" r="4.45"/>
<circle cx="1887.56" cy="284.40" r="4.45"/>
<circle cx="1889.52" cy="284.40" r="4.45"/>
<circle cx="1891.48" cy="284.40" r="4.45"/>
<circle cx="1893.44" cy="284.40" r="4.45"/>
<circle cx="1895.40" cy="284.40" r="4.45"/>
<circle cx="1897.36" cy="136.08" r="4.45"/>
<circle cx="1899.32" cy="284.40" r="4.45"/>
<circle cx="1901.28" cy="284.40" r="4.45"/>
<circle cx="1903.24" cy="284.40" r="4.45"/>
<circle cx="1905.20" cy="284.40" r="4.45"/>
<circle cx="1907.17" cy="284.40" r="4.45"/>
<circle cx="1909.13" cy="284.40" r="4.45"/>
<circle cx="1911.09" cy="284.40" r="4.45"/>
<circle cx="1913.05" cy="120.59" r="4.45"/>
<circle cx="1915.01" cy="284.40" r="4.45"/>
<circle cx="1916.97" cy="284.40" r="4.45"/>
<circle cx="1918.93" cy="284.40" r="4.45"/>
<circle cx="1920.89" cy="284.40" r="4.45"/>
<circle cx="1922.85" cy="284.40" r="4.45"/>
<circle cx="1924.81" cy="284.40" r="4.45"/>
<circle cx="1926.78" cy="284.40" r="4.45"/>
<circle cx="1928.74" cy="109.91" r="4.45"/>
<circle cx="1930.70" cy="284.40" r="4.45"/>
<circle cx="1932.66" cy="284.40" r="4.45"/>
<circle cx="1934.62" cy="284.40" r="4.45"/>
<circle cx="1936.58" cy="136.08" r="4.45"/>
<circle cx="1938.54" cy="284.40" r="4.45"/>
<circle cx="1940.50" cy="284.40" r="4.45"/>
<circle cx="1942.46" cy="284.40" r="4.45"/>
<circle cx="1944.42" cy="109.91" r="4.45"/>
<circle cx="1946.38" cy="284.40" r="4.45"/>
<circle cx="1948.35" cy="284.40" r="4.45"/>
<circle cx="1950.31" cy="284.40" r="4.45"/>
<circle cx="1952.27" cy="109.91" r="4.45"/>
<circle cx="1954.23" cy="284.40" r="4.45"/>
<circle cx="1956.19" cy="284.40" r="4.45"/>
<circle cx="1958.15" cy="284.40" r="4.45"/>
<circle cx="1960.11" cy="185.03" r="4.45"/>
<circle cx="1962.07" cy="284.40" r="4.45"/>
<circle cx="1964.03" cy="284.40" r="4.45"/>
<circle cx="1965.99" cy="284.40" r="4.45"/>
<circle cx="1967.95" cy="109.91" r="4.45"/>
<circle cx="1969.92" cy="284.40" r="4.45"/>
<circle cx="1971.88" cy="284.40" r="4.45"/>
<circle cx="1973.84" cy="284.40" r="4.45"/>
<circle cx="1975.80" cy="185.03" r="4.45"/>
<circle cx="1977.76" cy="284.40" r="4.45"/>
<circle cx="1979.72" cy="284.40" r="4.45"/>
<circle cx="1981.68" cy="284.40" r="4.45"/>
<circle cx="1983.64" cy="136.08" r="4.45"/>
<circle cx="1985.60" cy="284.40" r="4.45"/>
<circle cx="1987.56" cy="284.40" r="4.45"/>
<circle cx="1989.53" cy="284.40" r="4.45"/>
<circle cx="1991.49" cy="157.12" r="4.45"/>
<circle cx="1993.45" cy="284.40" r="4.45"/>
<circle cx="1995.41" cy="284.40" r="4.45"/>
<circle cx="1997.37" cy="284.40" r="4.45"/>
<circle cx="1999.33" cy="103.65" r="4.45"/>
<circle cx="2001.29" cy="284.40" r="4.45"/>
<circle cx="2003.25" cy="284.40" r="4.45"/>
<circle cx="2005.21" cy="284.40" r="4.45"/>
<circle cx="2007.17" cy="185.03" r="4.45"/>
<circle cx="2009.13" cy="284.40" r="4.45"/>
<circle cx="2011.10" cy="284.40" r="4.45"/>
<circle cx="2013.06" cy="284.40" r="4.45"/>
<circle cx="2015.02" cy="157.12" r="4.45"/>
<circle cx="2016.98" cy="284.40" r="4.45"/>
<circle cx="2018.94" cy="284.40" r="4.45"/>
<circle cx="2020.90" cy="284.40" r="4.45"/>
</g>
<text transform="translate(1768.1,349.9) scale(1,1.02)" font-size="33.5" text-anchor="middle" stroke="#000" stroke-width="0.3" >Bit number</text>
<text transform="translate(1440.7,182.9) rotate(-90) scale(1,1.03)" font-size="33.5" text-anchor="middle" stroke="#000" stroke-width="0.3"><tspan font-style="italic">E</tspan><tspan font-size="22.5" dy="8.2">x</tspan></text>
<rect x="1518.90" y="393.30" width="502.00" height="201.10" fill="none" stroke="#000" stroke-width="2.8"/>
<line x1="1518.90" x2="1518.90" y1="594.40" y2="586.40" stroke="#000" stroke-width="2.7"/>
<line x1="1619.30" x2="1619.30" y1="594.40" y2="586.40" stroke="#000" stroke-width="2.7"/>
<line x1="1719.70" x2="1719.70" y1="594.40" y2="586.40" stroke="#000" stroke-width="2.7"/>
<line x1="1820.10" x2="1820.10" y1="594.40" y2="586.40" stroke="#000" stroke-width="2.7"/>
<line x1="1920.50" x2="1920.50" y1="594.40" y2="586.40" stroke="#000" stroke-width="2.7"/>
<line x1="2020.90" x2="2020.90" y1="594.40" y2="586.40" stroke="#000" stroke-width="2.7"/>
<line x1="1569.10" x2="1569.10" y1="594.40" y2="590.10" stroke="#000" stroke-width="2.7"/>
<line x1="1669.50" x2="1669.50" y1="594.40" y2="590.10" stroke="#000" stroke-width="2.7"/>
<line x1="1769.90" x2="1769.90" y1="594.40" y2="590.10" stroke="#000" stroke-width="2.7"/>
<line x1="1870.30" x2="1870.30" y1="594.40" y2="590.10" stroke="#000" stroke-width="2.7"/>
<line x1="1970.70" x2="1970.70" y1="594.40" y2="590.10" stroke="#000" stroke-width="2.7"/>
<text transform="translate(1518.9,623.5) scale(1,1.035)" font-size="30.7" text-anchor="middle" stroke="#000" stroke-width="0.3" >1</text>
<text transform="translate(1619.3,623.5) scale(1,1.035)" font-size="30.7" text-anchor="middle" stroke="#000" stroke-width="0.3" >4</text>
<text transform="translate(1719.7,623.5) scale(1,1.035)" font-size="30.7" text-anchor="middle" stroke="#000" stroke-width="0.3" >7</text>
<text transform="translate(1820.1,623.5) scale(1,1.035)" font-size="30.7" text-anchor="middle" stroke="#000" stroke-width="0.3" >10</text>
<text transform="translate(1920.5,623.5) scale(1,1.035)" font-size="30.7" text-anchor="middle" stroke="#000" stroke-width="0.3" >13</text>
<text transform="translate(2020.9,623.5) scale(1,1.035)" font-size="30.7" text-anchor="middle" stroke="#000" stroke-width="0.3" >16</text>
<line x1="1518.90" x2="1526.90" y1="594.40" y2="594.40" stroke="#000" stroke-width="2.7"/>
<line x1="1518.90" x2="1526.90" y1="502.99" y2="502.99" stroke="#000" stroke-width="2.7"/>
<line x1="1518.90" x2="1526.90" y1="411.58" y2="411.58" stroke="#000" stroke-width="2.7"/>
<line x1="1518.90" x2="1523.20" y1="548.70" y2="548.70" stroke="#000" stroke-width="2.7"/>
<line x1="1518.90" x2="1523.20" y1="457.29" y2="457.29" stroke="#000" stroke-width="2.7"/>
<text transform="translate(1510.3,603.7) scale(1,1.035)" font-size="30.7" text-anchor="end" stroke="#000" stroke-width="0.3" >0.0</text>
<text transform="translate(1510.3,512.3) scale(1,1.035)" font-size="30.7" text-anchor="end" stroke="#000" stroke-width="0.3" >0.5</text>
<text transform="translate(1510.3,420.9) scale(1,1.035)" font-size="30.7" text-anchor="end" stroke="#000" stroke-width="0.3" >1.0</text>
<clipPath id="c6"><rect x="1518.90" y="393.30" width="502.00" height="201.10"/></clipPath>
<g clip-path="url(#c6)" fill="#4598C6">
<circle cx="1518.90" cy="506.12" r="4.45"/>
<circle cx="1552.37" cy="513.61" r="4.45"/>
<circle cx="1585.83" cy="521.13" r="4.45"/>
<circle cx="1619.30" cy="518.79" r="4.45"/>
<circle cx="1652.77" cy="533.54" r="4.45"/>
<circle cx="1686.23" cy="518.79" r="4.45"/>
<circle cx="1719.70" cy="516.21" r="4.45"/>
<circle cx="1753.17" cy="533.54" r="4.45"/>
<circle cx="1786.63" cy="503.78" r="4.45"/>
<circle cx="1820.10" cy="518.79" r="4.45"/>
<circle cx="1853.57" cy="521.13" r="4.45"/>
<circle cx="1887.03" cy="511.27" r="4.45"/>
<circle cx="1920.50" cy="513.61" r="4.45"/>
<circle cx="1953.97" cy="513.61" r="4.45"/>
<circle cx="1987.43" cy="498.60" r="4.45"/>
<circle cx="2020.90" cy="518.79" r="4.45"/>
</g>
<text transform="translate(1769.0,661.2) scale(1,1.02)" font-size="33.5" text-anchor="middle" stroke="#000" stroke-width="0.3" >Key number</text>
<text transform="translate(1440.7,492.7) rotate(-90) scale(1,1.03)" font-size="33.5" text-anchor="middle" stroke="#000" stroke-width="0.3"><tspan font-style="italic">E</tspan><tspan font-size="22.5" dy="8.2">y</tspan></text>
<clipPath id="cd"><rect x="113.05" y="718.65" width="502.20" height="406.25"/></clipPath>
<linearGradient id="g1" x1="0" y1="0" x2="0" y2="1"><stop offset="0.05" stop-color="#7ac23a"/><stop offset="1" stop-color="#3f7d1c"/></linearGradient>
<rect x="113.05" y="962.40" width="10.04" height="162.50" fill="url(#g1)" stroke="#000" stroke-opacity="0.6" stroke-width="1.1"/>
<linearGradient id="g2" x1="0" y1="0" x2="0" y2="1"><stop offset="0.05" stop-color="#7ac23a"/><stop offset="1" stop-color="#407f1d"/></linearGradient>
<rect x="123.09" y="1032.04" width="10.04" height="92.86" fill="url(#g2)" stroke="#000" stroke-opacity="0.6" stroke-width="1.1"/>
<linearGradient id="g3" x1="0" y1="0" x2="0" y2="1"><stop offset="0.05" stop-color="#7ac23a"/><stop offset="1" stop-color="#44831f"/></linearGradient>
<rect x="133.14" y="1066.86" width="10.04" height="58.04" fill="url(#g3)" stroke="#000" stroke-opacity="0.6" stroke-width="1.1"/>
<linearGradient id="g4" x1="0" y1="0" x2="0" y2="1"><stop offset="0.05" stop-color="#7ac23a"/><stop offset="1" stop-color="#417f1d"/></linearGradient>
<rect x="143.18" y="1043.65" width="10.04" height="81.25" fill="url(#g4)" stroke="#000" stroke-opacity="0.6" stroke-width="1.1"/>
<linearGradient id="g5" x1="0" y1="0" x2="0" y2="1"><stop offset="0.05" stop-color="#7ac23a"/><stop offset="1" stop-color="#488720"/></linearGradient>
<rect x="153.23" y="1078.47" width="10.04" height="46.43" fill="url(#g5)" stroke="#000" stroke-opacity="0.6" stroke-width="1.1"/>
<linearGradient id="g6" x1="0" y1="0" x2="0" y2="1"><stop offset="0.05" stop-color="#7ac23a"/><stop offset="1" stop-color="#569828"/></linearGradient>
<rect x="163.27" y="1101.69" width="10.04" height="23.21" fill="url(#g6)" stroke="#000" stroke-opacity="0.6" stroke-width="1.1"/>
<path d="M113.05,1070.51 L113.88,1055.85 L114.71,1039.10 L115.54,1020.70 L116.36,1001.30 L117.19,981.79 L118.02,963.23 L118.85,946.74 L119.68,933.42 L120.51,924.22 L121.34,919.80 L122.16,920.50 L122.99,926.27 L123.82,936.69 L124.65,950.97 L125.48,968.14 L126.31,987.07 L127.14,1006.64 L127.97,1025.85 L128.79,1043.86 L129.62,1060.07 L130.45,1074.12 L131.28,1085.88 L132.11,1095.39 L132.94,1102.84 L133.77,1108.49 L134.59,1112.65 L135.42,1115.62 L136.25,1117.69 L137.08,1119.07 L137.91,1119.98 L138.74,1120.56 L139.57,1120.92 L140.39,1121.14 L141.22,1121.26 L142.05,1121.33 L142.88,1121.37 L143.71,1121.40 L144.54,1121.41 L145.37,1121.41 L146.20,1121.42 L147.02,1121.42 L147.85,1121.42 L148.68,1121.42 L149.51,1121.42 L150.34,1121.42 L151.17,1121.42 L152.00,1121.42 L152.82,1121.42 L153.65,1121.42 L154.48,1121.42 L155.31,1121.42 L156.14,1121.42 L156.97,1121.42 L157.80,1121.42 L158.62,1121.42 L159.45,1121.42 L160.28,1121.42 L161.11,1121.42 L161.94,1121.42 L162.77,1121.42 L163.60,1121.42 L164.43,1121.42 L165.25,1121.42 L166.08,1121.42 L166.91,1121.42 L167.74,1121.42 L168.57,1121.42 L169.40,1121.42 L170.23,1121.42 L171.05,1121.42 L171.88,1121.42 L172.71,1121.42 L173.54,1121.42 L174.37,1121.42 L175.20,1121.42 L176.03,1121.42 L176.85,1121.42 L177.68,1121.42 L178.51,1121.42 L179.34,1121.42 L180.17,1121.42 L181.00,1121.42 L181.83,1121.42 L182.65,1121.42 L183.48,1121.42 L184.31,1121.42 L185.14,1121.42 L185.97,1121.42 L186.80,1121.42 L187.63,1121.42 L188.46,1121.42 L189.28,1121.42 L190.11,1121.42 L190.94,1121.42 L191.77,1121.42 L192.60,1121.42 L193.43,1121.42 L194.26,1121.42 L195.08,1121.42 L195.91,1121.42 L196.74,1121.42 L197.57,1121.42 L198.40,1121.42 L199.23,1121.42 L200.06,1121.42 L200.88,1121.42 L201.71,1121.42 L202.54,1121.42 L203.37,1121.42 L204.20,1121.42 L205.03,1121.42 L205.86,1121.42 L206.69,1121.42 L207.51,1121.42 L208.34,1121.42 L209.17,1121.42 L210.00,1121.42 L210.83,1121.42 L211.66,1121.42 L212.49,1121.42 L213.31,1121.42 L214.14,1121.42 L214.97,1121.42 L215.80,1121.42 L216.63,1121.42 L217.46,1121.42 L218.29,1121.42 L219.11,1121.42 L219.94,1121.42 L220.77,1121.42 L221.60,1121.42 L222.43,1121.42 L223.26,1121.42 L224.09,1121.42 L224.92,1121.42 L225.74,1121.42 L226.57,1121.42 L227.40,1121.42 L228.23,1121.42 L229.06,1121.42 L229.89,1121.42 L230.72,1121.42 L231.54,1121.42 L232.37,1121.42 L233.20,1121.42 L234.03,1121.42 L234.86,1121.42 L235.69,1121.42 L236.52,1121.42 L237.34,1121.42 L238.17,1121.42 L239.00,1121.42 L239.83,1121.42 L240.66,1121.42 L241.49,1121.42 L242.32,1121.42 L243.14,1121.42 L243.97,1121.42 L244.80,1121.42 L245.63,1121.42 L246.46,1121.42 L247.29,1121.42 L248.12,1121.42 L248.95,1121.42 L249.77,1121.42 L250.60,1121.42 L251.43,1121.42 L252.26,1121.42 L253.09,1121.42 L253.92,1121.42 L254.75,1121.42 L255.57,1121.42 L256.40,1121.42 L257.23,1121.42 L258.06,1121.42 L258.89,1121.42 L259.72,1121.42 L260.55,1121.42 L261.37,1121.42 L262.20,1121.42 L263.03,1121.42 L263.86,1121.42 L264.69,1121.42 L265.52,1121.42 L266.35,1121.42 L267.18,1121.42 L268.00,1121.42 L268.83,1121.42 L269.66,1121.42 L270.49,1121.42 L271.32,1121.42 L272.15,1121.42 L272.98,1121.42 L273.80,1121.42 L274.63,1121.42 L275.46,1121.42 L276.29,1121.42 L277.12,1121.42 L277.95,1121.42 L278.78,1121.42 L279.60,1121.42 L280.43,1121.42 L281.26,1121.42 L282.09,1121.42 L282.92,1121.42 L283.75,1121.42 L284.58,1121.42 L285.41,1121.42 L286.23,1121.42 L287.06,1121.42 L287.89,1121.42 L288.72,1121.42 L289.55,1121.42 L290.38,1121.42 L291.21,1121.42 L292.03,1121.42 L292.86,1121.42 L293.69,1121.42 L294.52,1121.42 L295.35,1121.42 L296.18,1121.42 L297.01,1121.42 L297.83,1121.42 L298.66,1121.42 L299.49,1121.42 L300.32,1121.42 L301.15,1121.42 L301.98,1121.42 L302.81,1121.42 L303.63,1121.42 L304.46,1121.42 L305.29,1121.42 L306.12,1121.42 L306.95,1121.42 L307.78,1121.42 L308.61,1121.42 L309.44,1121.42 L310.26,1121.42 L311.09,1121.42 L311.92,1121.42 L312.75,1121.42 L313.58,1121.42 L314.41,1121.42 L315.24,1121.42 L316.06,1121.42 L316.89,1121.42 L317.72,1121.42 L318.55,1121.42 L319.38,1121.42 L320.21,1121.42 L321.04,1121.42 L321.86,1121.42 L322.69,1121.42 L323.52,1121.42 L324.35,1121.42 L325.18,1121.42 L326.01,1121.42 L326.84,1121.42 L327.67,1121.42 L328.49,1121.42 L329.32,1121.42 L330.15,1121.42 L330.98,1121.42 L331.81,1121.42 L332.64,1121.42 L333.47,1121.42 L334.29,1121.42 L335.12,1121.42 L335.95,1121.42 L336.78,1121.42 L337.61,1121.42 L338.44,1121.42 L339.27,1121.42 L340.09,1121.42 L340.92,1121.42 L341.75,1121.42 L342.58,1121.42 L343.41,1121.42 L344.24,1121.42 L345.07,1121.42 L345.90,1121.42 L346.72,1121.42 L347.55,1121.42 L348.38,1121.42 L349.21,1121.42 L350.04,1121.42 L350.87,1121.42 L351.70,1121.42 L352.52,1121.42 L353.35,1121.42 L354.18,1121.42 L355.01,1121.42 L355.84,1121.42 L356.67,1121.42 L357.50,1121.42 L358.32,1121.42 L359.15,1121.42 L359.98,1121.42 L360.81,1121.42 L361.64,1121.42 L362.47,1121.42 L363.30,1121.42 L364.12,1121.42 L364.95,1121.42 L365.78,1121.42 L366.61,1121.42 L367.44,1121.42 L368.27,1121.42 L369.10,1121.42 L369.93,1121.42 L370.75,1121.42 L371.58,1121.42 L372.41,1121.42 L373.24,1121.42 L374.07,1121.42 L374.90,1121.42 L375.73,1121.42 L376.55,1121.42 L377.38,1121.42 L378.21,1121.42 L379.04,1121.42 L379.87,1121.42 L380.70,1121.42 L381.53,1121.42 L382.35,1121.42 L383.18,1121.42 L384.01,1121.42 L384.84,1121.42 L385.67,1121.42 L386.50,1121.42 L387.33,1121.42 L388.16,1121.42 L388.98,1121.42 L389.81,1121.42 L390.64,1121.42 L391.47,1121.42 L392.30,1121.42 L393.13,1121.42 L393.96,1121.42 L394.78,1121.42 L395.61,1121.42 L396.44,1121.42 L397.27,1121.42 L398.10,1121.42 L398.93,1121.42 L399.76,1121.42 L400.58,1121.42 L401.41,1121.42 L402.24,1121.42 L403.07,1121.42 L403.90,1121.42 L404.73,1121.42 L405.56,1121.42 L406.39,1121.42 L407.21,1121.42 L408.04,1121.42 L408.87,1121.42 L409.70,1121.42 L410.53,1121.42 L411.36,1121.42 L412.19,1121.42 L413.01,1121.42 L413.84,1121.42 L414.67,1121.42 L415.50,1121.42 L416.33,1121.42 L417.16,1121.42 L417.99,1121.42 L418.81,1121.42 L419.64,1121.42 L420.47,1121.42 L421.30,1121.42 L422.13,1121.42 L422.96,1121.42 L423.79,1121.42 L424.61,1121.42 L425.44,1121.42 L426.27,1121.42 L427.10,1121.42 L427.93,1121.42 L428.76,1121.42 L429.59,1121.42 L430.42,1121.42 L431.24,1121.42 L432.07,1121.42 L432.90,1121.42 L433.73,1121.42 L434.56,1121.42 L435.39,1121.42 L436.22,1121.42 L437.04,1121.42 L437.87,1121.42 L438.70,1121.42 L439.53,1121.42 L440.36,1121.42 L441.19,1121.42 L442.02,1121.42 L442.84,1121.42 L443.67,1121.42 L444.50,1121.42 L445.33,1121.42 L446.16,1121.42 L446.99,1121.42 L447.82,1121.42 L448.65,1121.42 L449.47,1121.42 L450.30,1121.42 L451.13,1121.42 L451.96,1121.42 L452.79,1121.42 L453.62,1121.42 L454.45,1121.42 L455.27,1121.42 L456.10,1121.42 L456.93,1121.42 L457.76,1121.42 L458.59,1121.42 L459.42,1121.42 L460.25,1121.42 L461.07,1121.42 L461.90,1121.42 L462.73,1121.42 L463.56,1121.42 L464.39,1121.42 L465.22,1121.42 L466.05,1121.42 L466.88,1121.42 L467.70,1121.42 L468.53,1121.42 L469.36,1121.42 L470.19,1121.42 L471.02,1121.42 L471.85,1121.42 L472.68,1121.42 L473.50,1121.42 L474.33,1121.42 L475.16,1121.42 L475.99,1121.42 L476.82,1121.42 L477.65,1121.42 L478.48,1121.42 L479.30,1121.42 L480.13,1121.42 L480.96,1121.42 L481.79,1121.42 L482.62,1121.42 L483.45,1121.42 L484.28,1121.42 L485.10,1121.42 L485.93,1121.42 L486.76,1121.42 L487.59,1121.42 L488.42,1121.42 L489.25,1121.42 L490.08,1121.42 L490.91,1121.42 L491.73,1121.42 L492.56,1121.42 L493.39,1121.42 L494.22,1121.42 L495.05,1121.42 L495.88,1121.42 L496.71,1121.42 L497.53,1121.42 L498.36,1121.42 L499.19,1121.42 L500.02,1121.42 L500.85,1121.42 L501.68,1121.42 L502.51,1121.42 L503.33,1121.42 L504.16,1121.42 L504.99,1121.42 L505.82,1121.42 L506.65,1121.42 L507.48,1121.42 L508.31,1121.42 L509.14,1121.42 L509.96,1121.42 L510.79,1121.42 L511.62,1121.42 L512.45,1121.42 L513.28,1121.42 L514.11,1121.42 L514.94,1121.42 L515.76,1121.42 L516.59,1121.42 L517.42,1121.42 L518.25,1121.42 L519.08,1121.42 L519.91,1121.42 L520.74,1121.42 L521.56,1121.42 L522.39,1121.42 L523.22,1121.42 L524.05,1121.42 L524.88,1121.42 L525.71,1121.42 L526.54,1121.42 L527.36,1121.42 L528.19,1121.42 L529.02,1121.42 L529.85,1121.42 L530.68,1121.42 L531.51,1121.42 L532.34,1121.42 L533.17,1121.42 L533.99,1121.42 L534.82,1121.42 L535.65,1121.42 L536.48,1121.42 L537.31,1121.42 L538.14,1121.42 L538.97,1121.42 L539.79,1121.42 L540.62,1121.42 L541.45,1121.42 L542.28,1121.42 L543.11,1121.42 L543.94,1121.42 L544.77,1121.42 L545.59,1121.42 L546.42,1121.42 L547.25,1121.42 L548.08,1121.42 L548.91,1121.42 L549.74,1121.42 L550.57,1121.42 L551.40,1121.42 L552.22,1121.42 L553.05,1121.42 L553.88,1121.42 L554.71,1121.42 L555.54,1121.42 L556.37,1121.42 L557.20,1121.42 L558.02,1121.42 L558.85,1121.42 L559.68,1121.42 L560.51,1121.42 L561.34,1121.42 L562.17,1121.42 L563.00,1121.42 L563.82,1121.42 L564.65,1121.42 L565.48,1121.42 L566.31,1121.42 L567.14,1121.42 L567.97,1121.42 L568.80,1121.42 L569.63,1121.42 L570.45,1121.42 L571.28,1121.42 L572.11,1121.42 L572.94,1121.42 L573.77,1121.42 L574.60,1121.42 L575.43,1121.42 L576.25,1121.42 L577.08,1121.42 L577.91,1121.42 L578.74,1121.42 L579.57,1121.42 L580.40,1121.42 L581.23,1121.42 L582.05,1121.42 L582.88,1121.42 L583.71,1121.42 L584.54,1121.42 L585.37,1121.42 L586.20,1121.42 L587.03,1121.42 L587.85,1121.42 L588.68,1121.42 L589.51,1121.42 L590.34,1121.42 L591.17,1121.42 L592.00,1121.42 L592.83,1121.42 L593.66,1121.42 L594.48,1121.42 L595.31,1121.42 L596.14,1121.42 L596.97,1121.42 L597.80,1121.42 L598.63,1121.42 L599.46,1121.42 L600.28,1121.42 L601.11,1121.42 L601.94,1121.42 L602.77,1121.42 L603.60,1121.42 L604.43,1121.42 L605.26,1121.42 L606.08,1121.42 L606.91,1121.42 L607.74,1121.42 L608.57,1121.42 L609.40,1121.42 L610.23,1121.42" fill="none" stroke="#4d8c2a" stroke-width="4.0" stroke-linejoin="round" stroke-linecap="butt" clip-path="url(#cd)"/>
<linearGradient id="g7" x1="0" y1="0" x2="0" y2="1"><stop offset="0.05" stop-color="#ee6262"/><stop offset="1" stop-color="#e35252"/></linearGradient>
<rect x="183.36" y="1113.29" width="10.04" height="11.61" fill="url(#g7)" stroke="#000" stroke-opacity="0.6" stroke-width="1.1"/>
<linearGradient id="g8" x1="0" y1="0" x2="0" y2="1"><stop offset="0.05" stop-color="#ee6262"/><stop offset="1" stop-color="#da4545"/></linearGradient>
<rect x="273.75" y="1101.69" width="10.04" height="23.21" fill="url(#g8)" stroke="#000" stroke-opacity="0.6" stroke-width="1.1"/>
<linearGradient id="g9" x1="0" y1="0" x2="0" y2="1"><stop offset="0.05" stop-color="#ee6262"/><stop offset="1" stop-color="#da4545"/></linearGradient>
<rect x="293.84" y="1101.69" width="10.04" height="23.21" fill="url(#g9)" stroke="#000" stroke-opacity="0.6" stroke-width="1.1"/>
<linearGradient id="g10" x1="0" y1="0" x2="0" y2="1"><stop offset="0.05" stop-color="#ee6262"/><stop offset="1" stop-color="#e35252"/></linearGradient>
<rect x="303.89" y="1113.29" width="10.04" height="11.61" fill="url(#g10)" stroke="#000" stroke-opacity="0.6" stroke-width="1.1"/>
<linearGradient id="g11" x1="0" y1="0" x2="0" y2="1"><stop offset="0.05" stop-color="#ee6262"/><stop offset="1" stop-color="#c82a2a"/></linearGradient>
<rect x="313.93" y="1066.86" width="10.04" height="58.04" fill="url(#g11)" stroke="#000" stroke-opacity="0.6" stroke-width="1.1"/>
<linearGradient id="g12" x1="0" y1="0" x2="0" y2="1"><stop offset="0.05" stop-color="#ee6262"/><stop offset="1" stop-color="#d33a3a"/></linearGradient>
<rect x="323.97" y="1090.08" width="10.04" height="34.82" fill="url(#g12)" stroke="#000" stroke-opacity="0.6" stroke-width="1.1"/>
<linearGradient id="g13" x1="0" y1="0" x2="0" y2="1"><stop offset="0.05" stop-color="#ee6262"/><stop offset="1" stop-color="#be1b1b"/></linearGradient>
<rect x="334.02" y="1032.04" width="10.04" height="92.86" fill="url(#g13)" stroke="#000" stroke-opacity="0.6" stroke-width="1.1"/>
<linearGradient id="g14" x1="0" y1="0" x2="0" y2="1"><stop offset="0.05" stop-color="#ee6262"/><stop offset="1" stop-color="#b40d0d"/></linearGradient>
<rect x="344.06" y="927.58" width="10.04" height="197.32" fill="url(#g14)" stroke="#000" stroke-opacity="0.6" stroke-width="1.1"/>
<linearGradient id="g15" x1="0" y1="0" x2="0" y2="1"><stop offset="0.05" stop-color="#ee6262"/><stop offset="1" stop-color="#b20b0b"/></linearGradient>
<rect x="354.11" y="834.72" width="10.04" height="290.18" fill="url(#g15)" stroke="#000" stroke-opacity="0.6" stroke-width="1.1"/>
<linearGradient id="g16" x1="0" y1="0" x2="0" y2="1"><stop offset="0.05" stop-color="#ee6262"/><stop offset="1" stop-color="#b20a0a"/></linearGradient>
<rect x="364.15" y="741.86" width="10.04" height="383.04" fill="url(#g16)" stroke="#000" stroke-opacity="0.6" stroke-width="1.1"/>
<linearGradient id="g17" x1="0" y1="0" x2="0" y2="1"><stop offset="0.05" stop-color="#ee6262"/><stop offset="1" stop-color="#b40d0d"/></linearGradient>
<rect x="374.19" y="939.19" width="10.04" height="185.71" fill="url(#g17)" stroke="#000" stroke-opacity="0.6" stroke-width="1.1"/>
<linearGradient id="g18" x1="0" y1="0" x2="0" y2="1"><stop offset="0.05" stop-color="#ee6262"/><stop offset="1" stop-color="#c82a2a"/></linearGradient>
<rect x="384.24" y="1066.86" width="10.04" height="58.04" fill="url(#g18)" stroke="#000" stroke-opacity="0.6" stroke-width="1.1"/>
<linearGradient id="g19" x1="0" y1="0" x2="0" y2="1"><stop offset="0.05" stop-color="#ee6262"/><stop offset="1" stop-color="#da4545"/></linearGradient>
<rect x="394.28" y="1101.69" width="10.04" height="23.21" fill="url(#g19)" stroke="#000" stroke-opacity="0.6" stroke-width="1.1"/>
<path d="M177.83,1120.84 L178.55,1120.84 L179.28,1120.84 L180.00,1120.84 L180.72,1120.84 L181.44,1120.84 L182.16,1120.84 L182.88,1120.84 L183.60,1120.84 L184.32,1120.84 L185.04,1120.84 L185.76,1120.84 L186.48,1120.84 L187.20,1120.84 L187.92,1120.84 L188.64,1120.84 L189.36,1120.84 L190.08,1120.84 L190.81,1120.84 L191.53,1120.84 L192.25,1120.84 L192.97,1120.84 L193.69,1120.84 L194.41,1120.84 L195.13,1120.84 L195.85,1120.84 L196.57,1120.84 L197.29,1120.84 L198.01,1120.84 L198.73,1120.84 L199.45,1120.84 L200.17,1120.84 L200.89,1120.84 L201.62,1120.84 L202.34,1120.84 L203.06,1120.84 L203.78,1120.84 L204.50,1120.84 L205.22,1120.84 L205.94,1120.84 L206.66,1120.84 L207.38,1120.84 L208.10,1120.84 L208.82,1120.84 L209.54,1120.84 L210.26,1120.84 L210.98,1120.84 L211.70,1120.84 L212.43,1120.84 L213.15,1120.84 L213.87,1120.84 L214.59,1120.84 L215.31,1120.84 L216.03,1120.84 L216.75,1120.84 L217.47,1120.84 L218.19,1120.84 L218.91,1120.84 L219.63,1120.84 L220.35,1120.84 L221.07,1120.84 L221.79,1120.84 L222.51,1120.84 L223.24,1120.84 L223.96,1120.84 L224.68,1120.84 L225.40,1120.84 L226.12,1120.84 L226.84,1120.84 L227.56,1120.84 L228.28,1120.84 L229.00,1120.84 L229.72,1120.84 L230.44,1120.84 L231.16,1120.84 L231.88,1120.84 L232.60,1120.84 L233.32,1120.84 L234.05,1120.84 L234.77,1120.84 L235.49,1120.84 L236.21,1120.84 L236.93,1120.84 L237.65,1120.84 L238.37,1120.84 L239.09,1120.84 L239.81,1120.84 L240.53,1120.84 L241.25,1120.84 L241.97,1120.84 L242.69,1120.84 L243.41,1120.84 L244.13,1120.84 L244.85,1120.84 L245.58,1120.84 L246.30,1120.84 L247.02,1120.84 L247.74,1120.84 L248.46,1120.84 L249.18,1120.84 L249.90,1120.84 L250.62,1120.84 L251.34,1120.84 L252.06,1120.84 L252.78,1120.84 L253.50,1120.84 L254.22,1120.84 L254.94,1120.84 L255.66,1120.84 L256.39,1120.84 L257.11,1120.84 L257.83,1120.84 L258.55,1120.84 L259.27,1120.84 L259.99,1120.84 L260.71,1120.84 L261.43,1120.84 L262.15,1120.84 L262.87,1120.84 L263.59,1120.84 L264.31,1120.84 L265.03,1120.84 L265.75,1120.84 L266.47,1120.84 L267.20,1120.84 L267.92,1120.84 L268.64,1120.84 L269.36,1120.84 L270.08,1120.84 L270.80,1120.84 L271.52,1120.84 L272.24,1120.84 L272.96,1120.84 L273.68,1120.84 L274.40,1120.84 L275.12,1120.84 L275.84,1120.84 L276.56,1120.84 L277.28,1120.84 L278.01,1120.84 L278.73,1120.84 L279.45,1120.84 L280.17,1120.84 L280.89,1120.84 L281.61,1120.84 L282.33,1120.84 L283.05,1120.84 L283.77,1120.84 L284.49,1120.84 L285.21,1120.84 L285.93,1120.84 L286.65,1120.84 L287.37,1120.84 L288.09,1120.84 L288.81,1120.84 L289.54,1120.84 L290.26,1120.84 L290.98,1120.84 L291.70,1120.84 L292.42,1120.84 L293.14,1120.84 L293.86,1120.84 L294.58,1120.84 L295.30,1120.84 L296.02,1120.84 L296.74,1120.83 L297.46,1120.83 L298.18,1120.83 L298.90,1120.83 L299.62,1120.83 L300.35,1120.83 L301.07,1120.83 L301.79,1120.82 L302.51,1120.82 L303.23,1120.82 L303.95,1120.81 L304.67,1120.80 L305.39,1120.79 L306.11,1120.78 L306.83,1120.77 L307.55,1120.76 L308.27,1120.74 L308.99,1120.71 L309.71,1120.68 L310.43,1120.65 L311.16,1120.61 L311.88,1120.56 L312.60,1120.50 L313.32,1120.43 L314.04,1120.34 L314.76,1120.24 L315.48,1120.12 L316.20,1119.98 L316.92,1119.81 L317.64,1119.62 L318.36,1119.39 L319.08,1119.12 L319.80,1118.80 L320.52,1118.44 L321.24,1118.01 L321.97,1117.53 L322.69,1116.96 L323.41,1116.32 L324.13,1115.58 L324.85,1114.74 L325.57,1113.78 L326.29,1112.69 L327.01,1111.45 L327.73,1110.06 L328.45,1108.50 L329.17,1106.75 L329.89,1104.79 L330.61,1102.62 L331.33,1100.20 L332.05,1097.52 L332.78,1094.56 L333.50,1091.31 L334.22,1087.75 L334.94,1083.86 L335.66,1079.62 L336.38,1075.01 L337.10,1070.03 L337.82,1064.66 L338.54,1058.88 L339.26,1052.70 L339.98,1046.10 L340.70,1039.08 L341.42,1031.63 L342.14,1023.78 L342.86,1015.51 L343.58,1006.85 L344.31,997.80 L345.03,988.39 L345.75,978.65 L346.47,968.59 L347.19,958.27 L347.91,947.71 L348.63,936.95 L349.35,926.05 L350.07,915.06 L350.79,904.03 L351.51,893.02 L352.23,882.10 L352.95,871.32 L353.67,860.75 L354.39,850.46 L355.12,840.52 L355.84,830.99 L356.56,821.95 L357.28,813.44 L358.00,805.54 L358.72,798.30 L359.44,791.79 L360.16,786.04 L360.88,781.10 L361.60,777.01 L362.32,773.81 L363.04,771.52 L363.76,770.15 L364.48,769.72 L365.20,770.24 L365.93,771.69 L366.65,774.06 L367.37,777.35 L368.09,781.51 L368.81,786.52 L369.53,792.35 L370.25,798.93 L370.97,806.23 L371.69,814.19 L372.41,822.74 L373.13,831.84 L373.85,841.41 L374.57,851.38 L375.29,861.70 L376.01,872.29 L376.74,883.08 L377.46,894.02 L378.18,905.03 L378.90,916.06 L379.62,927.04 L380.34,937.93 L381.06,948.67 L381.78,959.21 L382.50,969.52 L383.22,979.54 L383.94,989.26 L384.66,998.64 L385.38,1007.65 L386.10,1016.28 L386.82,1024.51 L387.54,1032.33 L388.27,1039.73 L388.99,1046.71 L389.71,1053.27 L390.43,1059.42 L391.15,1065.16 L391.87,1070.50 L392.59,1075.44 L393.31,1080.01 L394.03,1084.22 L394.75,1088.09 L395.47,1091.62 L396.19,1094.84 L396.91,1097.77 L397.63,1100.43 L398.35,1102.82 L399.08,1104.98 L399.80,1106.92 L400.52,1108.65 L401.24,1110.20 L401.96,1111.57 L402.68,1112.79 L403.40,1113.87 L404.12,1114.82 L404.84,1115.65 L405.56,1116.38 L406.28,1117.02 L407.00,1117.57 L407.72,1118.06 L408.44,1118.47 L409.16,1118.83 L409.89,1119.14 L410.61,1119.41 L411.33,1119.64 L412.05,1119.83 L412.77,1119.99 L413.49,1120.13 L414.21,1120.25 L414.93,1120.35 L415.65,1120.44 L416.37,1120.51 L417.09,1120.56 L417.81,1120.61 L418.53,1120.65 L419.25,1120.69 L419.97,1120.72 L420.70,1120.74 L421.42,1120.76 L422.14,1120.77 L422.86,1120.79 L423.58,1120.80 L424.30,1120.80 L425.02,1120.81 L425.74,1120.82 L426.46,1120.82 L427.18,1120.82 L427.90,1120.83 L428.62,1120.83 L429.34,1120.83 L430.06,1120.83 L430.78,1120.83 L431.51,1120.83 L432.23,1120.84 L432.95,1120.84 L433.67,1120.84 L434.39,1120.84 L435.11,1120.84 L435.83,1120.84 L436.55,1120.84 L437.27,1120.84 L437.99,1120.84 L438.71,1120.84 L439.43,1120.84 L440.15,1120.84 L440.87,1120.84 L441.59,1120.84 L442.31,1120.84 L443.04,1120.84 L443.76,1120.84 L444.48,1120.84 L445.20,1120.84 L445.92,1120.84 L446.64,1120.84 L447.36,1120.84 L448.08,1120.84 L448.80,1120.84 L449.52,1120.84 L450.24,1120.84 L450.96,1120.84 L451.68,1120.84 L452.40,1120.84 L453.12,1120.84 L453.85,1120.84 L454.57,1120.84 L455.29,1120.84 L456.01,1120.84 L456.73,1120.84 L457.45,1120.84 L458.17,1120.84 L458.89,1120.84 L459.61,1120.84 L460.33,1120.84 L461.05,1120.84 L461.77,1120.84 L462.49,1120.84 L463.21,1120.84 L463.93,1120.84 L464.66,1120.84 L465.38,1120.84 L466.10,1120.84 L466.82,1120.84 L467.54,1120.84 L468.26,1120.84 L468.98,1120.84 L469.70,1120.84 L470.42,1120.84 L471.14,1120.84 L471.86,1120.84 L472.58,1120.84 L473.30,1120.84 L474.02,1120.84 L474.74,1120.84 L475.47,1120.84 L476.19,1120.84 L476.91,1120.84 L477.63,1120.84 L478.35,1120.84 L479.07,1120.84 L479.79,1120.84 L480.51,1120.84 L481.23,1120.84 L481.95,1120.84 L482.67,1120.84 L483.39,1120.84 L484.11,1120.84 L484.83,1120.84 L485.55,1120.84 L486.27,1120.84 L487.00,1120.84 L487.72,1120.84 L488.44,1120.84 L489.16,1120.84 L489.88,1120.84 L490.60,1120.84 L491.32,1120.84 L492.04,1120.84 L492.76,1120.84 L493.48,1120.84 L494.20,1120.84 L494.92,1120.84 L495.64,1120.84 L496.36,1120.84 L497.08,1120.84 L497.81,1120.84 L498.53,1120.84 L499.25,1120.84 L499.97,1120.84 L500.69,1120.84 L501.41,1120.84 L502.13,1120.84 L502.85,1120.84 L503.57,1120.84 L504.29,1120.84 L505.01,1120.84 L505.73,1120.84 L506.45,1120.84 L507.17,1120.84 L507.89,1120.84 L508.62,1120.84 L509.34,1120.84 L510.06,1120.84 L510.78,1120.84 L511.50,1120.84 L512.22,1120.84 L512.94,1120.84 L513.66,1120.84 L514.38,1120.84 L515.10,1120.84 L515.82,1120.84 L516.54,1120.84 L517.26,1120.84 L517.98,1120.84 L518.70,1120.84 L519.43,1120.84 L520.15,1120.84 L520.87,1120.84 L521.59,1120.84 L522.31,1120.84 L523.03,1120.84 L523.75,1120.84 L524.47,1120.84 L525.19,1120.84 L525.91,1120.84 L526.63,1120.84 L527.35,1120.84 L528.07,1120.84 L528.79,1120.84 L529.51,1120.84 L530.24,1120.84 L530.96,1120.84 L531.68,1120.84 L532.40,1120.84 L533.12,1120.84 L533.84,1120.84 L534.56,1120.84 L535.28,1120.84 L536.00,1120.84 L536.72,1120.84 L537.44,1120.84 L538.16,1120.84 L538.88,1120.84 L539.60,1120.84 L540.32,1120.84 L541.04,1120.84 L541.77,1120.84 L542.49,1120.84 L543.21,1120.84 L543.93,1120.84 L544.65,1120.84 L545.37,1120.84 L546.09,1120.84 L546.81,1120.84 L547.53,1120.84 L548.25,1120.84 L548.97,1120.84 L549.69,1120.84 L550.41,1120.84 L551.13,1120.84 L551.85,1120.84 L552.58,1120.84 L553.30,1120.84 L554.02,1120.84 L554.74,1120.84 L555.46,1120.84 L556.18,1120.84 L556.90,1120.84 L557.62,1120.84 L558.34,1120.84 L559.06,1120.84 L559.78,1120.84 L560.50,1120.84 L561.22,1120.84 L561.94,1120.84 L562.66,1120.84 L563.39,1120.84 L564.11,1120.84 L564.83,1120.84 L565.55,1120.84 L566.27,1120.84 L566.99,1120.84 L567.71,1120.84 L568.43,1120.84 L569.15,1120.84 L569.87,1120.84 L570.59,1120.84 L571.31,1120.84 L572.03,1120.84 L572.75,1120.84 L573.47,1120.84 L574.20,1120.84 L574.92,1120.84 L575.64,1120.84 L576.36,1120.84 L577.08,1120.84 L577.80,1120.84 L578.52,1120.84 L579.24,1120.84 L579.96,1120.84 L580.68,1120.84 L581.40,1120.84 L582.12,1120.84 L582.84,1120.84 L583.56,1120.84 L584.28,1120.84 L585.01,1120.84 L585.73,1120.84 L586.45,1120.84 L587.17,1120.84 L587.89,1120.84 L588.61,1120.84 L589.33,1120.84 L590.05,1120.84 L590.77,1120.84 L591.49,1120.84 L592.21,1120.84 L592.93,1120.84 L593.65,1120.84 L594.37,1120.84 L595.09,1120.84 L595.81,1120.84 L596.54,1120.84 L597.26,1120.84 L597.98,1120.84 L598.70,1120.84 L599.42,1120.84 L600.14,1120.84 L600.86,1120.84 L601.58,1120.84 L602.30,1120.84 L603.02,1120.84 L603.74,1120.84 L604.46,1120.84 L605.18,1120.84 L605.90,1120.84 L606.62,1120.84 L607.35,1120.84 L608.07,1120.84 L608.79,1120.84 L609.51,1120.84 L610.23,1120.84" fill="none" stroke="#ee6363" stroke-width="4.0" stroke-linejoin="round" stroke-linecap="butt" clip-path="url(#cd)"/>
<rect x="113.05" y="718.65" width="502.20" height="406.25" fill="none" stroke="#000" stroke-width="2.8"/>
<line x1="113.05" x2="113.05" y1="1124.90" y2="1132.90" stroke="#000" stroke-width="2.7"/>
<line x1="213.49" x2="213.49" y1="1124.90" y2="1132.90" stroke="#000" stroke-width="2.7"/>
<line x1="313.93" x2="313.93" y1="1124.90" y2="1132.90" stroke="#000" stroke-width="2.7"/>
<line x1="414.37" x2="414.37" y1="1124.90" y2="1132.90" stroke="#000" stroke-width="2.7"/>
<line x1="514.81" x2="514.81" y1="1124.90" y2="1132.90" stroke="#000" stroke-width="2.7"/>
<line x1="615.25" x2="615.25" y1="1124.90" y2="1132.90" stroke="#000" stroke-width="2.7"/>
<line x1="163.27" x2="163.27" y1="1124.90" y2="1129.20" stroke="#000" stroke-width="2.7"/>
<line x1="263.71" x2="263.71" y1="1124.90" y2="1129.20" stroke="#000" stroke-width="2.7"/>
<line x1="364.15" x2="364.15" y1="1124.90" y2="1129.20" stroke="#000" stroke-width="2.7"/>
<line x1="464.59" x2="464.59" y1="1124.90" y2="1129.20" stroke="#000" stroke-width="2.7"/>
<line x1="565.03" x2="565.03" y1="1124.90" y2="1129.20" stroke="#000" stroke-width="2.7"/>
<text transform="translate(113.0,1161.7) scale(1,1.035)" font-size="30.7" text-anchor="middle" stroke="#000" stroke-width="0.3" >0.0</text>
<text transform="translate(213.5,1161.7) scale(1,1.035)" font-size="30.7" text-anchor="middle" stroke="#000" stroke-width="0.3" >0.2</text>
<text transform="translate(313.9,1161.7) scale(1,1.035)" font-size="30.7" text-anchor="middle" stroke="#000" stroke-width="0.3" >0.4</text>
<text transform="translate(414.4,1161.7) scale(1,1.035)" font-size="30.7" text-anchor="middle" stroke="#000" stroke-width="0.3" >0.6</text>
<text transform="translate(514.8,1161.7) scale(1,1.035)" font-size="30.7" text-anchor="middle" stroke="#000" stroke-width="0.3" >0.8</text>
<text transform="translate(615.2,1161.7) scale(1,1.035)" font-size="30.7" text-anchor="middle" stroke="#000" stroke-width="0.3" >1.0</text>
<line x1="113.05" x2="105.05" y1="1124.90" y2="1124.90" stroke="#000" stroke-width="2.7"/>
<line x1="113.05" x2="105.05" y1="1066.86" y2="1066.86" stroke="#000" stroke-width="2.7"/>
<line x1="113.05" x2="105.05" y1="1008.83" y2="1008.83" stroke="#000" stroke-width="2.7"/>
<line x1="113.05" x2="105.05" y1="950.79" y2="950.79" stroke="#000" stroke-width="2.7"/>
<line x1="113.05" x2="105.05" y1="892.76" y2="892.76" stroke="#000" stroke-width="2.7"/>
<line x1="113.05" x2="105.05" y1="834.72" y2="834.72" stroke="#000" stroke-width="2.7"/>
<line x1="113.05" x2="105.05" y1="776.69" y2="776.69" stroke="#000" stroke-width="2.7"/>
<line x1="113.05" x2="105.05" y1="718.65" y2="718.65" stroke="#000" stroke-width="2.7"/>
<line x1="113.05" x2="108.75" y1="1095.88" y2="1095.88" stroke="#000" stroke-width="2.7"/>
<line x1="113.05" x2="108.75" y1="1037.85" y2="1037.85" stroke="#000" stroke-width="2.7"/>
<line x1="113.05" x2="108.75" y1="979.81" y2="979.81" stroke="#000" stroke-width="2.7"/>
<line x1="113.05" x2="108.75" y1="921.78" y2="921.78" stroke="#000" stroke-width="2.7"/>
<line x1="113.05" x2="108.75" y1="863.74" y2="863.74" stroke="#000" stroke-width="2.7"/>
<line x1="113.05" x2="108.75" y1="805.70" y2="805.70" stroke="#000" stroke-width="2.7"/>
<line x1="113.05" x2="108.75" y1="747.67" y2="747.67" stroke="#000" stroke-width="2.7"/>
<text transform="translate(100.0,1134.2) scale(1,1.035)" font-size="30.7" text-anchor="end" stroke="#000" stroke-width="0.3" >0</text>
<text transform="translate(100.0,1076.2) scale(1,1.035)" font-size="30.7" text-anchor="end" stroke="#000" stroke-width="0.3" >5</text>
<text transform="translate(100.0,1018.1) scale(1,1.035)" font-size="30.7" text-anchor="end" stroke="#000" stroke-width="0.3" >10</text>
<text transform="translate(100.0,960.1) scale(1,1.035)" font-size="30.7" text-anchor="end" stroke="#000" stroke-width="0.3" >15</text>
<text transform="translate(100.0,902.1) scale(1,1.035)" font-size="30.7" text-anchor="end" stroke="#000" stroke-width="0.3" >20</text>
<text transform="translate(100.0,844.0) scale(1,1.035)" font-size="30.7" text-anchor="end" stroke="#000" stroke-width="0.3" >25</text>
<text transform="translate(100.0,786.0) scale(1,1.035)" font-size="30.7" text-anchor="end" stroke="#000" stroke-width="0.3" >30</text>
<text transform="translate(100.0,727.9) scale(1,1.035)" font-size="30.7" text-anchor="end" stroke="#000" stroke-width="0.3" >35</text>
<text transform="translate(360.2,1211.6) scale(1,1.02)" font-size="33.5" text-anchor="middle" stroke="#000" stroke-width="0.3" >Hamming Distance</text>
<text transform="translate(30.4,907.3) rotate(-90) scale(1,1.02)" font-size="33.5" text-anchor="middle" stroke="#000" stroke-width="0.3">Counts</text>
<rect x="152.8" y="757.2" width="49" height="27.3" fill="#bc3b3b"/>
<rect x="152.8" y="808" width="49" height="27.1" fill="#73ba30"/>
<text transform="translate(214.5,782.0) scale(1,1.02)" font-size="33.5" text-anchor="start" stroke="#000" stroke-width="0.3" >Inter-HD</text>
<text transform="translate(214.5,832.0) scale(1,1.02)" font-size="33.5" text-anchor="start" stroke="#000" stroke-width="0.3" >Intra-HD</text>
<text transform="translate(402.4,794.8) scale(1.3,1)" font-size="34" font-family='"Liberation Serif", "DejaVu Serif", serif' font-style="italic">μ</text>
<text transform="translate(431.5,794.8) scale(1,1.035)" font-size="34" stroke="#000" stroke-width="0.3">= 0.5006</text>
<text transform="translate(405.0,834.7) scale(1.25,1)" font-size="34" font-family='"Liberation Serif", "DejaVu Serif", serif' font-style="italic">σ</text>
<text transform="translate(432.0,834.7) scale(1,1.035)" font-size="34" stroke="#000" stroke-width="0.3">= 0.0277</text>
<text transform="translate(141.0,978.0) scale(1.3,1)" font-size="34" font-family='"Liberation Serif", "DejaVu Serif", serif' font-style="italic">μ</text>
<text transform="translate(170.1,978.0) scale(1,1.035)" font-size="34" stroke="#000" stroke-width="0.3">= 0.0171</text>
<text transform="translate(143.6,1017.9) scale(1.25,1)" font-size="34" font-family='"Liberation Serif", "DejaVu Serif", serif' font-style="italic">σ</text>
<text transform="translate(170.6,1017.9) scale(1,1.035)" font-size="34" stroke="#000" stroke-width="0.3">= 0.0103</text>
<clipPath id="ce"><rect x="819.60" y="718.65" width="502.20" height="406.25"/></clipPath>
<linearGradient id="g20" x1="0" y1="0" x2="0" y2="1"><stop offset="0.05" stop-color="#4b9ccc"/><stop offset="1" stop-color="#3b80aa"/></linearGradient>
<rect x="930.08" y="1104.59" width="10.04" height="20.31" fill="url(#g20)" stroke="#000" stroke-opacity="0.6" stroke-width="1.1"/>
<linearGradient id="g21" x1="0" y1="0" x2="0" y2="1"><stop offset="0.05" stop-color="#4b9ccc"/><stop offset="1" stop-color="#3b80aa"/></linearGradient>
<rect x="940.13" y="1104.59" width="10.04" height="20.31" fill="url(#g21)" stroke="#000" stroke-opacity="0.6" stroke-width="1.1"/>
<linearGradient id="g22" x1="0" y1="0" x2="0" y2="1"><stop offset="0.05" stop-color="#4b9ccc"/><stop offset="1" stop-color="#3b80aa"/></linearGradient>
<rect x="970.26" y="1104.59" width="10.04" height="20.31" fill="url(#g22)" stroke="#000" stroke-opacity="0.6" stroke-width="1.1"/>
<linearGradient id="g23" x1="0" y1="0" x2="0" y2="1"><stop offset="0.05" stop-color="#4b9ccc"/><stop offset="1" stop-color="#3b80aa"/></linearGradient>
<rect x="980.30" y="1104.59" width="10.04" height="20.31" fill="url(#g23)" stroke="#000" stroke-opacity="0.6" stroke-width="1.1"/>
<linearGradient id="g24" x1="0" y1="0" x2="0" y2="1"><stop offset="0.05" stop-color="#4b9ccc"/><stop offset="1" stop-color="#3b80aa"/></linearGradient>
<rect x="1000.39" y="1104.59" width="10.04" height="20.31" fill="url(#g24)" stroke="#000" stroke-opacity="0.6" stroke-width="1.1"/>
<linearGradient id="g25" x1="0" y1="0" x2="0" y2="1"><stop offset="0.05" stop-color="#4b9ccc"/><stop offset="1" stop-color="#174261"/></linearGradient>
<rect x="1010.44" y="962.40" width="10.04" height="162.50" fill="url(#g25)" stroke="#000" stroke-opacity="0.6" stroke-width="1.1"/>
<linearGradient id="g26" x1="0" y1="0" x2="0" y2="1"><stop offset="0.05" stop-color="#4b9ccc"/><stop offset="1" stop-color="#16405f"/></linearGradient>
<rect x="1020.48" y="942.09" width="10.04" height="182.81" fill="url(#g26)" stroke="#000" stroke-opacity="0.6" stroke-width="1.1"/>
<linearGradient id="g27" x1="0" y1="0" x2="0" y2="1"><stop offset="0.05" stop-color="#4b9ccc"/><stop offset="1" stop-color="#194464"/></linearGradient>
<rect x="1030.52" y="982.71" width="10.04" height="142.19" fill="url(#g27)" stroke="#000" stroke-opacity="0.6" stroke-width="1.1"/>
<linearGradient id="g28" x1="0" y1="0" x2="0" y2="1"><stop offset="0.05" stop-color="#4b9ccc"/><stop offset="1" stop-color="#174261"/></linearGradient>
<rect x="1040.57" y="962.40" width="10.04" height="162.50" fill="url(#g28)" stroke="#000" stroke-opacity="0.6" stroke-width="1.1"/>
<linearGradient id="g29" x1="0" y1="0" x2="0" y2="1"><stop offset="0.05" stop-color="#4b9ccc"/><stop offset="1" stop-color="#153d5b"/></linearGradient>
<rect x="1050.61" y="860.84" width="10.04" height="264.06" fill="url(#g29)" stroke="#000" stroke-opacity="0.6" stroke-width="1.1"/>
<linearGradient id="g30" x1="0" y1="0" x2="0" y2="1"><stop offset="0.05" stop-color="#4b9ccc"/><stop offset="1" stop-color="#153d5b"/></linearGradient>
<rect x="1060.66" y="860.84" width="10.04" height="264.06" fill="url(#g30)" stroke="#000" stroke-opacity="0.6" stroke-width="1.1"/>
<linearGradient id="g31" x1="0" y1="0" x2="0" y2="1"><stop offset="0.05" stop-color="#4b9ccc"/><stop offset="1" stop-color="#143c5a"/></linearGradient>
<rect x="1070.70" y="738.96" width="10.04" height="385.94" fill="url(#g31)" stroke="#000" stroke-opacity="0.6" stroke-width="1.1"/>
<linearGradient id="g32" x1="0" y1="0" x2="0" y2="1"><stop offset="0.05" stop-color="#4b9ccc"/><stop offset="1" stop-color="#143d5b"/></linearGradient>
<rect x="1080.74" y="840.53" width="10.04" height="284.38" fill="url(#g32)" stroke="#000" stroke-opacity="0.6" stroke-width="1.1"/>
<linearGradient id="g33" x1="0" y1="0" x2="0" y2="1"><stop offset="0.05" stop-color="#4b9ccc"/><stop offset="1" stop-color="#1e4d6e"/></linearGradient>
<rect x="1090.79" y="1023.34" width="10.04" height="101.56" fill="url(#g33)" stroke="#000" stroke-opacity="0.6" stroke-width="1.1"/>
<linearGradient id="g34" x1="0" y1="0" x2="0" y2="1"><stop offset="0.05" stop-color="#4b9ccc"/><stop offset="1" stop-color="#1e4d6e"/></linearGradient>
<rect x="1100.83" y="1023.34" width="10.04" height="101.56" fill="url(#g34)" stroke="#000" stroke-opacity="0.6" stroke-width="1.1"/>
<linearGradient id="g35" x1="0" y1="0" x2="0" y2="1"><stop offset="0.05" stop-color="#4b9ccc"/><stop offset="1" stop-color="#225476"/></linearGradient>
<rect x="1110.88" y="1043.65" width="10.04" height="81.25" fill="url(#g35)" stroke="#000" stroke-opacity="0.6" stroke-width="1.1"/>
<linearGradient id="g36" x1="0" y1="0" x2="0" y2="1"><stop offset="0.05" stop-color="#4b9ccc"/><stop offset="1" stop-color="#2f6c93"/></linearGradient>
<rect x="1120.92" y="1084.28" width="10.04" height="40.62" fill="url(#g36)" stroke="#000" stroke-opacity="0.6" stroke-width="1.1"/>
<linearGradient id="g37" x1="0" y1="0" x2="0" y2="1"><stop offset="0.05" stop-color="#4b9ccc"/><stop offset="1" stop-color="#3b80aa"/></linearGradient>
<rect x="1130.96" y="1104.59" width="10.04" height="20.31" fill="url(#g37)" stroke="#000" stroke-opacity="0.6" stroke-width="1.1"/>
<linearGradient id="g38" x1="0" y1="0" x2="0" y2="1"><stop offset="0.05" stop-color="#4b9ccc"/><stop offset="1" stop-color="#275e82"/></linearGradient>
<rect x="1141.01" y="1063.96" width="10.04" height="60.94" fill="url(#g38)" stroke="#000" stroke-opacity="0.6" stroke-width="1.1"/>
<linearGradient id="g39" x1="0" y1="0" x2="0" y2="1"><stop offset="0.05" stop-color="#4b9ccc"/><stop offset="1" stop-color="#225476"/></linearGradient>
<rect x="1151.05" y="1043.65" width="10.04" height="81.25" fill="url(#g39)" stroke="#000" stroke-opacity="0.6" stroke-width="1.1"/>
<path d="M926.07,1118.19 L926.72,1118.19 L927.37,1118.19 L928.02,1118.19 L928.67,1118.19 L929.32,1118.19 L929.97,1118.19 L930.62,1118.18 L931.28,1118.18 L931.93,1118.18 L932.58,1118.18 L933.23,1118.18 L933.88,1118.18 L934.53,1118.17 L935.18,1118.17 L935.83,1118.17 L936.49,1118.17 L937.14,1118.16 L937.79,1118.16 L938.44,1118.16 L939.09,1118.15 L939.74,1118.15 L940.39,1118.15 L941.04,1118.14 L941.69,1118.14 L942.35,1118.13 L943.00,1118.12 L943.65,1118.12 L944.30,1118.11 L944.95,1118.10 L945.60,1118.09 L946.25,1118.09 L946.90,1118.08 L947.56,1118.06 L948.21,1118.05 L948.86,1118.04 L949.51,1118.03 L950.16,1118.01 L950.81,1118.00 L951.46,1117.98 L952.11,1117.96 L952.77,1117.94 L953.42,1117.92 L954.07,1117.90 L954.72,1117.87 L955.37,1117.84 L956.02,1117.82 L956.67,1117.78 L957.32,1117.75 L957.97,1117.72 L958.63,1117.68 L959.28,1117.64 L959.93,1117.59 L960.58,1117.55 L961.23,1117.49 L961.88,1117.44 L962.53,1117.38 L963.18,1117.32 L963.84,1117.25 L964.49,1117.18 L965.14,1117.11 L965.79,1117.03 L966.44,1116.94 L967.09,1116.85 L967.74,1116.75 L968.39,1116.65 L969.04,1116.54 L969.70,1116.42 L970.35,1116.29 L971.00,1116.16 L971.65,1116.02 L972.30,1115.86 L972.95,1115.70 L973.60,1115.53 L974.25,1115.35 L974.91,1115.16 L975.56,1114.96 L976.21,1114.75 L976.86,1114.52 L977.51,1114.28 L978.16,1114.02 L978.81,1113.76 L979.46,1113.47 L980.11,1113.17 L980.77,1112.86 L981.42,1112.53 L982.07,1112.18 L982.72,1111.81 L983.37,1111.42 L984.02,1111.01 L984.67,1110.58 L985.32,1110.12 L985.98,1109.65 L986.63,1109.15 L987.28,1108.63 L987.93,1108.08 L988.58,1107.50 L989.23,1106.90 L989.88,1106.26 L990.53,1105.60 L991.18,1104.91 L991.84,1104.19 L992.49,1103.43 L993.14,1102.64 L993.79,1101.81 L994.44,1100.95 L995.09,1100.06 L995.74,1099.12 L996.39,1098.15 L997.05,1097.13 L997.70,1096.08 L998.35,1094.98 L999.00,1093.84 L999.65,1092.65 L1000.30,1091.42 L1000.95,1090.14 L1001.60,1088.82 L1002.26,1087.45 L1002.91,1086.03 L1003.56,1084.55 L1004.21,1083.03 L1004.86,1081.46 L1005.51,1079.83 L1006.16,1078.15 L1006.81,1076.41 L1007.46,1074.62 L1008.12,1072.77 L1008.77,1070.87 L1009.42,1068.91 L1010.07,1066.90 L1010.72,1064.82 L1011.37,1062.69 L1012.02,1060.50 L1012.67,1058.25 L1013.33,1055.94 L1013.98,1053.57 L1014.63,1051.14 L1015.28,1048.65 L1015.93,1046.11 L1016.58,1043.50 L1017.23,1040.84 L1017.88,1038.12 L1018.53,1035.34 L1019.19,1032.51 L1019.84,1029.62 L1020.49,1026.67 L1021.14,1023.67 L1021.79,1020.62 L1022.44,1017.52 L1023.09,1014.36 L1023.74,1011.15 L1024.40,1007.90 L1025.05,1004.60 L1025.70,1001.26 L1026.35,997.87 L1027.00,994.44 L1027.65,990.98 L1028.30,987.47 L1028.95,983.94 L1029.60,980.37 L1030.26,976.77 L1030.91,973.14 L1031.56,969.49 L1032.21,965.82 L1032.86,962.13 L1033.51,958.43 L1034.16,954.71 L1034.81,950.98 L1035.47,947.25 L1036.12,943.51 L1036.77,939.78 L1037.42,936.05 L1038.07,932.33 L1038.72,928.62 L1039.37,924.92 L1040.02,921.25 L1040.68,917.59 L1041.33,913.97 L1041.98,910.37 L1042.63,906.81 L1043.28,903.29 L1043.93,899.81 L1044.58,896.37 L1045.23,892.99 L1045.88,889.66 L1046.54,886.38 L1047.19,883.17 L1047.84,880.03 L1048.49,876.95 L1049.14,873.95 L1049.79,871.03 L1050.44,868.18 L1051.09,865.42 L1051.75,862.75 L1052.40,860.17 L1053.05,857.68 L1053.70,855.29 L1054.35,853.00 L1055.00,850.82 L1055.65,848.74 L1056.30,846.77 L1056.95,844.92 L1057.61,843.17 L1058.26,841.55 L1058.91,840.04 L1059.56,838.66 L1060.21,837.39 L1060.86,836.26 L1061.51,835.24 L1062.16,834.36 L1062.82,833.61 L1063.47,832.98 L1064.12,832.49 L1064.77,832.12 L1065.42,831.89 L1066.07,831.79 L1066.72,831.83 L1067.37,831.99 L1068.02,832.29 L1068.68,832.72 L1069.33,833.28 L1069.98,833.98 L1070.63,834.80 L1071.28,835.75 L1071.93,836.82 L1072.58,838.02 L1073.23,839.35 L1073.89,840.80 L1074.54,842.36 L1075.19,844.05 L1075.84,845.85 L1076.49,847.77 L1077.14,849.79 L1077.79,851.92 L1078.44,854.16 L1079.10,856.50 L1079.75,858.94 L1080.40,861.48 L1081.05,864.11 L1081.70,866.82 L1082.35,869.63 L1083.00,872.51 L1083.65,875.48 L1084.30,878.52 L1084.96,881.63 L1085.61,884.81 L1086.26,888.05 L1086.91,891.35 L1087.56,894.71 L1088.21,898.12 L1088.86,901.58 L1089.51,905.08 L1090.17,908.63 L1090.82,912.21 L1091.47,915.82 L1092.12,919.46 L1092.77,923.12 L1093.42,926.81 L1094.07,930.51 L1094.72,934.23 L1095.37,937.96 L1096.03,941.69 L1096.68,945.42 L1097.33,949.16 L1097.98,952.89 L1098.63,956.61 L1099.28,960.32 L1099.93,964.02 L1100.58,967.70 L1101.24,971.36 L1101.89,975.00 L1102.54,978.61 L1103.19,982.20 L1103.84,985.75 L1104.49,989.27 L1105.14,992.75 L1105.79,996.20 L1106.44,999.61 L1107.10,1002.97 L1107.75,1006.30 L1108.40,1009.57 L1109.05,1012.80 L1109.70,1015.98 L1110.35,1019.11 L1111.00,1022.19 L1111.65,1025.21 L1112.31,1028.19 L1112.96,1031.10 L1113.61,1033.97 L1114.26,1036.77 L1114.91,1039.52 L1115.56,1042.21 L1116.21,1044.84 L1116.86,1047.42 L1117.52,1049.93 L1118.17,1052.39 L1118.82,1054.79 L1119.47,1057.12 L1120.12,1059.40 L1120.77,1061.62 L1121.42,1063.79 L1122.07,1065.89 L1122.72,1067.93 L1123.38,1069.92 L1124.03,1071.85 L1124.68,1073.73 L1125.33,1075.54 L1125.98,1077.31 L1126.63,1079.01 L1127.28,1080.67 L1127.93,1082.27 L1128.59,1083.82 L1129.24,1085.31 L1129.89,1086.76 L1130.54,1088.16 L1131.19,1089.50 L1131.84,1090.80 L1132.49,1092.06 L1133.14,1093.26 L1133.79,1094.43 L1134.45,1095.54 L1135.10,1096.62 L1135.75,1097.66 L1136.40,1098.65 L1137.05,1099.60 L1137.70,1100.52 L1138.35,1101.40 L1139.00,1102.24 L1139.66,1103.05 L1140.31,1103.82 L1140.96,1104.56 L1141.61,1105.27 L1142.26,1105.94 L1142.91,1106.59 L1143.56,1107.21 L1144.21,1107.80 L1144.86,1108.36 L1145.52,1108.90 L1146.17,1109.41 L1146.82,1109.90 L1147.47,1110.36 L1148.12,1110.80 L1148.77,1111.22 L1149.42,1111.62 L1150.07,1112.00 L1150.73,1112.36 L1151.38,1112.70 L1152.03,1113.02 L1152.68,1113.33 L1153.33,1113.62 L1153.98,1113.90 L1154.63,1114.16 L1155.28,1114.40 L1155.94,1114.64 L1156.59,1114.86 L1157.24,1115.06 L1157.89,1115.26 L1158.54,1115.45 L1159.19,1115.62 L1159.84,1115.79 L1160.49,1115.94 L1161.14,1116.09 L1161.80,1116.23 L1162.45,1116.36 L1163.10,1116.48 L1163.75,1116.59 L1164.40,1116.70 L1165.05,1116.80 L1165.70,1116.90 L1166.35,1116.99 L1167.01,1117.07 L1167.66,1117.15 L1168.31,1117.22 L1168.96,1117.29 L1169.61,1117.35 L1170.26,1117.41 L1170.91,1117.47 L1171.56,1117.52 L1172.21,1117.57 L1172.87,1117.62 L1173.52,1117.66 L1174.17,1117.70 L1174.82,1117.73 L1175.47,1117.77 L1176.12,1117.80 L1176.77,1117.83 L1177.42,1117.86 L1178.08,1117.88 L1178.73,1117.91 L1179.38,1117.93 L1180.03,1117.95 L1180.68,1117.97 L1181.33,1117.99 L1181.98,1118.00 L1182.63,1118.02 L1183.28,1118.03 L1183.94,1118.05 L1184.59,1118.06 L1185.24,1118.07 L1185.89,1118.08 L1186.54,1118.09 L1187.19,1118.10 L1187.84,1118.11 L1188.49,1118.11 L1189.15,1118.12 L1189.80,1118.13 L1190.45,1118.13 L1191.10,1118.14 L1191.75,1118.14 L1192.40,1118.15 L1193.05,1118.15 L1193.70,1118.16 L1194.36,1118.16 L1195.01,1118.16 L1195.66,1118.17 L1196.31,1118.17 L1196.96,1118.17 L1197.61,1118.17 L1198.26,1118.18 L1198.91,1118.18 L1199.56,1118.18 L1200.22,1118.18 L1200.87,1118.18 L1201.52,1118.18 L1202.17,1118.18 L1202.82,1118.19 L1203.47,1118.19 L1204.12,1118.19 L1204.77,1118.19 L1205.43,1118.19 L1206.08,1118.19 L1206.73,1118.19 L1207.38,1118.19 L1208.03,1118.19 L1208.68,1118.19 L1209.33,1118.19 L1209.98,1118.19 L1210.63,1118.19 L1211.29,1118.19 L1211.94,1118.19 L1212.59,1118.19 L1213.24,1118.19 L1213.89,1118.19 L1214.54,1118.20 L1215.19,1118.20 L1215.84,1118.20 L1216.50,1118.20 L1217.15,1118.20 L1217.80,1118.20 L1218.45,1118.20 L1219.10,1118.20 L1219.75,1118.20 L1220.40,1118.20 L1221.05,1118.20 L1221.70,1118.20 L1222.36,1118.20 L1223.01,1118.20 L1223.66,1118.20 L1224.31,1118.20 L1224.96,1118.20 L1225.61,1118.20 L1226.26,1118.20 L1226.91,1118.20 L1227.57,1118.20 L1228.22,1118.20 L1228.87,1118.20 L1229.52,1118.20 L1230.17,1118.20 L1230.82,1118.20 L1231.47,1118.20 L1232.12,1118.20 L1232.78,1118.20 L1233.43,1118.20 L1234.08,1118.20 L1234.73,1118.20 L1235.38,1118.20 L1236.03,1118.20 L1236.68,1118.20 L1237.33,1118.20 L1237.98,1118.20 L1238.64,1118.20 L1239.29,1118.20 L1239.94,1118.20 L1240.59,1118.20 L1241.24,1118.20 L1241.89,1118.20 L1242.54,1118.20 L1243.19,1118.20 L1243.85,1118.20 L1244.50,1118.20 L1245.15,1118.20 L1245.80,1118.20 L1246.45,1118.20 L1247.10,1118.20 L1247.75,1118.20 L1248.40,1118.20 L1249.05,1118.20 L1249.71,1118.20 L1250.36,1118.20 L1251.01,1118.20 L1251.66,1118.20 L1252.31,1118.20 L1252.96,1118.20 L1253.61,1118.20 L1254.26,1118.20 L1254.92,1118.20 L1255.57,1118.20 L1256.22,1118.20 L1256.87,1118.20 L1257.52,1118.20 L1258.17,1118.20 L1258.82,1118.20 L1259.47,1118.20 L1260.12,1118.20 L1260.78,1118.20 L1261.43,1118.20 L1262.08,1118.20 L1262.73,1118.20 L1263.38,1118.20 L1264.03,1118.20 L1264.68,1118.20 L1265.33,1118.20 L1265.99,1118.20 L1266.64,1118.20 L1267.29,1118.20 L1267.94,1118.20 L1268.59,1118.20 L1269.24,1118.20 L1269.89,1118.20 L1270.54,1118.20 L1271.19,1118.20 L1271.85,1118.20 L1272.50,1118.20 L1273.15,1118.20 L1273.80,1118.20 L1274.45,1118.20 L1275.10,1118.20 L1275.75,1118.20 L1276.40,1118.20 L1277.06,1118.20 L1277.71,1118.20 L1278.36,1118.20 L1279.01,1118.20 L1279.66,1118.20 L1280.31,1118.20 L1280.96,1118.20 L1281.61,1118.20 L1282.27,1118.20 L1282.92,1118.20 L1283.57,1118.20 L1284.22,1118.20 L1284.87,1118.20 L1285.52,1118.20 L1286.17,1118.20 L1286.82,1118.20 L1287.47,1118.20 L1288.13,1118.20 L1288.78,1118.20 L1289.43,1118.20 L1290.08,1118.20 L1290.73,1118.20 L1291.38,1118.20 L1292.03,1118.20 L1292.68,1118.20 L1293.34,1118.20 L1293.99,1118.20 L1294.64,1118.20 L1295.29,1118.20 L1295.94,1118.20 L1296.59,1118.20 L1297.24,1118.20 L1297.89,1118.20 L1298.54,1118.20 L1299.20,1118.20 L1299.85,1118.20 L1300.50,1118.20 L1301.15,1118.20 L1301.80,1118.20 L1302.45,1118.20 L1303.10,1118.20 L1303.75,1118.20 L1304.41,1118.20 L1305.06,1118.20 L1305.71,1118.20 L1306.36,1118.20 L1307.01,1118.20 L1307.66,1118.20 L1308.31,1118.20 L1308.96,1118.20 L1309.61,1118.20 L1310.27,1118.20 L1310.92,1118.20 L1311.57,1118.20 L1312.22,1118.20 L1312.87,1118.20 L1313.52,1118.20 L1314.17,1118.20 L1314.82,1118.20 L1315.48,1118.20 L1316.13,1118.20 L1316.78,1118.20" fill="none" stroke="#2f7193" stroke-width="4.0" stroke-linejoin="round" stroke-linecap="butt" clip-path="url(#ce)"/>
<rect x="819.60" y="718.65" width="502.20" height="406.25" fill="none" stroke="#000" stroke-width="2.8"/>
<line x1="819.60" x2="819.60" y1="1124.90" y2="1132.90" stroke="#000" stroke-width="2.7"/>
<line x1="920.04" x2="920.04" y1="1124.90" y2="1132.90" stroke="#000" stroke-width="2.7"/>
<line x1="1020.48" x2="1020.48" y1="1124.90" y2="1132.90" stroke="#000" stroke-width="2.7"/>
<line x1="1120.92" x2="1120.92" y1="1124.90" y2="1132.90" stroke="#000" stroke-width="2.7"/>
<line x1="1221.36" x2="1221.36" y1="1124.90" y2="1132.90" stroke="#000" stroke-width="2.7"/>
<line x1="1321.80" x2="1321.80" y1="1124.90" y2="1132.90" stroke="#000" stroke-width="2.7"/>
<line x1="869.82" x2="869.82" y1="1124.90" y2="1129.20" stroke="#000" stroke-width="2.7"/>
<line x1="970.26" x2="970.26" y1="1124.90" y2="1129.20" stroke="#000" stroke-width="2.7"/>
<line x1="1070.70" x2="1070.70" y1="1124.90" y2="1129.20" stroke="#000" stroke-width="2.7"/>
<line x1="1171.14" x2="1171.14" y1="1124.90" y2="1129.20" stroke="#000" stroke-width="2.7"/>
<line x1="1271.58" x2="1271.58" y1="1124.90" y2="1129.20" stroke="#000" stroke-width="2.7"/>
<text transform="translate(819.6,1161.7) scale(1,1.035)" font-size="30.7" text-anchor="middle" stroke="#000" stroke-width="0.3" >0.0</text>
<text transform="translate(920.0,1161.7) scale(1,1.035)" font-size="30.7" text-anchor="middle" stroke="#000" stroke-width="0.3" >0.2</text>
<text transform="translate(1020.5,1161.7) scale(1,1.035)" font-size="30.7" text-anchor="middle" stroke="#000" stroke-width="0.3" >0.4</text>
<text transform="translate(1120.9,1161.7) scale(1,1.035)" font-size="30.7" text-anchor="middle" stroke="#000" stroke-width="0.3" >0.6</text>
<text transform="translate(1221.4,1161.7) scale(1,1.035)" font-size="30.7" text-anchor="middle" stroke="#000" stroke-width="0.3" >0.8</text>
<text transform="translate(1321.8,1161.7) scale(1,1.035)" font-size="30.7" text-anchor="middle" stroke="#000" stroke-width="0.3" >1.0</text>
<line x1="819.60" x2="811.60" y1="1124.90" y2="1124.90" stroke="#000" stroke-width="2.7"/>
<line x1="819.60" x2="811.60" y1="1023.34" y2="1023.34" stroke="#000" stroke-width="2.7"/>
<line x1="819.60" x2="811.60" y1="921.78" y2="921.78" stroke="#000" stroke-width="2.7"/>
<line x1="819.60" x2="811.60" y1="820.21" y2="820.21" stroke="#000" stroke-width="2.7"/>
<line x1="819.60" x2="811.60" y1="718.65" y2="718.65" stroke="#000" stroke-width="2.7"/>
<line x1="819.60" x2="815.30" y1="1074.12" y2="1074.12" stroke="#000" stroke-width="2.7"/>
<line x1="819.60" x2="815.30" y1="972.56" y2="972.56" stroke="#000" stroke-width="2.7"/>
<line x1="819.60" x2="815.30" y1="870.99" y2="870.99" stroke="#000" stroke-width="2.7"/>
<line x1="819.60" x2="815.30" y1="769.43" y2="769.43" stroke="#000" stroke-width="2.7"/>
<text transform="translate(806.6,1134.2) scale(1,1.035)" font-size="30.7" text-anchor="end" stroke="#000" stroke-width="0.3" >0</text>
<text transform="translate(806.6,1032.6) scale(1,1.035)" font-size="30.7" text-anchor="end" stroke="#000" stroke-width="0.3" >5</text>
<text transform="translate(806.6,931.1) scale(1,1.035)" font-size="30.7" text-anchor="end" stroke="#000" stroke-width="0.3" >10</text>
<text transform="translate(806.6,829.5) scale(1,1.035)" font-size="30.7" text-anchor="end" stroke="#000" stroke-width="0.3" >15</text>
<text transform="translate(806.6,727.9) scale(1,1.035)" font-size="30.7" text-anchor="end" stroke="#000" stroke-width="0.3" >20</text>
<text transform="translate(1066.8,1211.6) scale(1,1.02)" font-size="33.5" text-anchor="middle" stroke="#000" stroke-width="0.3" >Hamming Distance</text>
<text transform="translate(736.3,907.3) rotate(-90) scale(1,1.02)" font-size="33.5" text-anchor="middle" stroke="#000" stroke-width="0.3">Counts</text>
<text transform="translate(1122.8,780.5) scale(1.3,1)" font-size="34" font-family='"Liberation Serif", "DejaVu Serif", serif' font-style="italic">μ</text>
<text transform="translate(1151.9,780.5) scale(1,1.035)" font-size="34" stroke="#000" stroke-width="0.3">= 0.4911</text>
<text transform="translate(1125.4,820.4) scale(1.25,1)" font-size="34" font-family='"Liberation Serif", "DejaVu Serif", serif' font-style="italic">σ</text>
<text transform="translate(1152.4,820.4) scale(1,1.035)" font-size="34" stroke="#000" stroke-width="0.3">= 0.0603</text>
<clipPath id="cf"><rect x="1526.30" y="718.65" width="502.20" height="406.25"/></clipPath>
<linearGradient id="g40" x1="0" y1="0" x2="0" y2="1"><stop offset="0.05" stop-color="#9b73c9"/><stop offset="1" stop-color="#5c3a76"/></linearGradient>
<rect x="1526.30" y="834.72" width="10.04" height="290.18" fill="url(#g40)" stroke="#000" stroke-opacity="0.6" stroke-width="1.1"/>
<linearGradient id="g41" x1="0" y1="0" x2="0" y2="1"><stop offset="0.05" stop-color="#9b73c9"/><stop offset="1" stop-color="#5c3a76"/></linearGradient>
<rect x="1536.34" y="765.08" width="10.04" height="359.82" fill="url(#g41)" stroke="#000" stroke-opacity="0.6" stroke-width="1.1"/>
<linearGradient id="g42" x1="0" y1="0" x2="0" y2="1"><stop offset="0.05" stop-color="#9b73c9"/><stop offset="1" stop-color="#775299"/></linearGradient>
<rect x="1546.39" y="1078.47" width="10.04" height="46.43" fill="url(#g42)" stroke="#000" stroke-opacity="0.6" stroke-width="1.1"/>
<path d="M1526.30,928.63 L1526.36,927.03 L1526.41,925.44 L1526.47,923.84 L1526.53,922.23 L1526.58,920.62 L1526.64,919.00 L1526.70,917.38 L1526.76,915.76 L1526.81,914.14 L1526.87,912.50 L1526.93,910.87 L1526.98,909.23 L1527.04,907.59 L1527.10,905.95 L1527.15,904.30 L1527.21,902.65 L1527.27,901.00 L1527.32,899.34 L1527.38,897.68 L1527.44,896.02 L1527.50,894.35 L1527.55,892.69 L1527.61,891.02 L1527.67,889.35 L1527.72,887.68 L1527.78,886.00 L1527.84,884.32 L1527.89,882.65 L1527.95,880.97 L1528.01,879.29 L1528.06,877.60 L1528.12,875.92 L1528.18,874.24 L1528.24,872.55 L1528.29,870.87 L1528.35,869.18 L1528.41,867.49 L1528.46,865.81 L1528.52,864.12 L1528.58,862.43 L1528.63,860.75 L1528.69,859.06 L1528.75,857.37 L1528.80,855.69 L1528.86,854.00 L1528.92,852.32 L1528.98,850.64 L1529.03,848.96 L1529.09,847.27 L1529.15,845.60 L1529.20,843.92 L1529.26,842.24 L1529.32,840.57 L1529.37,838.90 L1529.43,837.23 L1529.49,835.56 L1529.54,833.90 L1529.60,832.24 L1529.66,830.58 L1529.71,828.92 L1529.77,827.27 L1529.83,825.62 L1529.89,823.98 L1529.94,822.34 L1530.00,820.70 L1530.06,819.06 L1530.11,817.43 L1530.17,815.81 L1530.23,814.19 L1530.28,812.57 L1530.34,810.96 L1530.40,809.35 L1530.45,807.75 L1530.51,806.15 L1530.57,804.56 L1530.63,802.98 L1530.68,801.40 L1530.74,799.82 L1530.80,798.25 L1530.85,796.69 L1530.91,795.14 L1530.97,793.59 L1531.02,792.04 L1531.08,790.51 L1531.14,788.98 L1531.19,787.46 L1531.25,785.95 L1531.31,784.44 L1531.37,782.94 L1531.42,781.45 L1531.48,779.97 L1531.54,778.49 L1531.59,777.02 L1531.65,775.57 L1531.71,774.12 L1531.76,772.68 L1531.82,771.24 L1531.88,769.82 L1531.93,768.41 L1531.99,767.00 L1532.05,765.61 L1532.11,764.22 L1532.16,762.85 L1532.22,761.48 L1532.28,760.13 L1532.33,758.78 L1532.39,757.45 L1532.45,756.13 L1532.50,754.81 L1532.56,753.51 L1532.62,752.22 L1532.67,750.94 L1532.73,749.67 L1532.79,748.41 L1532.85,747.17 L1532.90,745.94 L1532.96,744.71 L1533.02,743.50 L1533.07,742.31 L1533.13,741.12 L1533.19,739.95 L1533.24,738.79 L1533.30,737.64 L1533.36,736.51 L1533.41,735.39 L1533.47,734.28 L1533.53,733.18 L1533.59,732.10 L1533.64,731.03 L1533.70,729.98 L1533.76,728.94 L1533.81,727.91 L1533.87,726.90 L1533.93,725.90 L1533.98,724.92 L1534.04,723.95 L1534.10,722.99 L1534.15,722.05 L1534.21,721.13 L1534.27,720.22 L1534.33,719.32 L1534.38,718.44 L1534.44,717.57 L1534.50,716.72 L1534.55,715.89 L1534.61,715.07 L1534.67,714.26 L1534.72,713.47 L1534.78,712.70 L1534.84,711.95 L1534.89,711.20 L1534.95,710.48 L1535.01,709.77 L1535.07,709.08 L1535.12,708.40 L1535.18,707.74 L1535.24,707.10 L1535.29,706.47 L1535.35,705.86 L1535.41,705.27 L1535.46,704.69 L1535.52,704.13 L1535.58,703.59 L1535.63,703.06 L1535.69,702.56 L1535.75,702.06 L1535.80,701.59 L1535.86,701.13 L1535.92,700.69 L1535.98,700.27 L1536.03,699.87 L1536.09,699.48 L1536.15,699.11 L1536.20,698.76 L1536.26,698.42 L1536.32,698.10 L1536.37,697.80 L1536.43,697.52 L1536.49,697.26 L1536.54,697.01 L1536.60,696.78 L1536.66,696.57 L1536.72,696.38 L1536.77,696.20 L1536.83,696.05 L1536.89,695.91 L1536.94,695.79 L1537.00,695.68 L1537.06,695.60 L1537.11,695.53 L1537.17,695.48 L1537.23,695.45 L1537.28,695.44 L1537.34,695.45 L1537.40,695.49 L1537.46,695.56 L1537.51,695.67 L1537.57,695.81 L1537.63,695.98 L1537.68,696.18 L1537.74,696.42 L1537.80,696.69 L1537.85,696.99 L1537.91,697.32 L1537.97,697.69 L1538.02,698.09 L1538.08,698.52 L1538.14,698.98 L1538.20,699.47 L1538.25,700.00 L1538.31,700.56 L1538.37,701.14 L1538.42,701.76 L1538.48,702.42 L1538.54,703.10 L1538.59,703.81 L1538.65,704.55 L1538.71,705.33 L1538.76,706.13 L1538.82,706.97 L1538.88,707.83 L1538.94,708.73 L1538.99,709.65 L1539.05,710.61 L1539.11,711.59 L1539.16,712.60 L1539.22,713.64 L1539.28,714.71 L1539.33,715.81 L1539.39,716.94 L1539.45,718.09 L1539.50,719.27 L1539.56,720.48 L1539.62,721.72 L1539.68,722.98 L1539.73,724.27 L1539.79,725.58 L1539.85,726.93 L1539.90,728.29 L1539.96,729.68 L1540.02,731.10 L1540.07,732.54 L1540.13,734.01 L1540.19,735.50 L1540.24,737.01 L1540.30,738.55 L1540.36,740.11 L1540.42,741.70 L1540.47,743.30 L1540.53,744.93 L1540.59,746.58 L1540.64,748.25 L1540.70,749.95 L1540.76,751.66 L1540.81,753.39 L1540.87,755.15 L1540.93,756.92 L1540.98,758.71 L1541.04,760.53 L1541.10,762.36 L1541.16,764.20 L1541.21,766.07 L1541.27,767.95 L1541.33,769.86 L1541.38,771.77 L1541.44,773.71 L1541.50,775.66 L1541.55,777.62 L1541.61,779.60 L1541.67,781.60 L1541.72,783.61 L1541.78,785.63 L1541.84,787.67 L1541.89,789.72 L1541.95,791.79 L1542.01,793.86 L1542.07,795.95 L1542.12,798.05 L1542.18,800.16 L1542.24,802.28 L1542.29,804.42 L1542.35,806.56 L1542.41,808.71 L1542.46,810.87 L1542.52,813.04 L1542.58,815.22 L1542.63,817.41 L1542.69,819.61 L1542.75,821.81 L1542.81,824.02 L1542.86,826.23 L1542.92,828.46 L1542.98,830.68 L1543.03,832.92 L1543.09,835.16 L1543.15,837.40 L1543.20,839.65 L1543.26,841.90 L1543.32,844.15 L1543.37,846.41 L1543.43,848.67 L1543.49,850.94 L1543.55,853.20 L1543.60,855.47 L1543.66,857.74 L1543.72,860.01 L1543.77,862.28 L1543.83,864.55 L1543.89,866.82 L1543.94,869.09 L1544.00,871.36 L1544.06,873.63 L1544.11,875.90 L1544.17,878.16 L1544.23,880.43 L1544.29,882.69 L1544.34,884.95 L1544.40,887.20 L1544.46,889.45 L1544.51,891.70 L1544.57,893.95 L1544.63,896.19 L1544.68,898.42 L1544.74,900.66 L1544.80,902.88 L1544.85,905.10 L1544.91,907.32 L1544.97,909.53 L1545.03,911.73 L1545.08,913.92 L1545.14,916.11 L1545.20,918.30 L1545.25,920.47 L1545.31,922.64 L1545.37,924.80 L1545.42,926.95 L1545.48,929.10 L1545.54,931.23 L1545.59,933.36 L1545.65,935.47 L1545.71,937.58 L1545.77,939.68 L1545.82,941.77 L1545.88,943.85 L1545.94,945.92 L1545.99,947.98 L1546.05,950.03 L1546.11,952.07 L1546.16,954.09 L1546.22,956.11 L1546.28,958.12 L1546.33,960.11 L1546.39,962.09 L1546.45,964.06 L1546.51,966.02 L1546.56,967.97 L1546.62,969.91 L1546.68,971.83 L1546.73,973.74 L1546.79,975.64 L1546.85,977.52 L1546.90,979.40 L1546.96,981.26 L1547.02,983.10 L1547.07,984.94 L1547.13,986.76 L1547.19,988.56 L1547.25,990.36 L1547.30,992.14 L1547.36,993.91 L1547.42,995.66 L1547.47,997.40 L1547.53,999.12 L1547.59,1000.83 L1547.64,1002.53 L1547.70,1004.22 L1547.76,1005.88 L1547.81,1007.54 L1547.87,1009.18 L1547.93,1010.81 L1547.98,1012.42 L1548.04,1014.02 L1548.10,1015.60 L1548.16,1017.17 L1548.21,1018.72 L1548.27,1020.27 L1548.33,1021.79 L1548.38,1023.30 L1548.44,1024.80 L1548.50,1026.28 L1548.55,1027.75 L1548.61,1029.20 L1548.67,1030.64 L1548.72,1032.06 L1548.78,1033.47 L1548.84,1034.87 L1548.90,1036.25 L1548.95,1037.61 L1549.01,1038.96 L1549.07,1040.30 L1549.12,1041.62 L1549.18,1042.93 L1549.24,1044.22 L1549.29,1045.50 L1549.35,1046.77 L1549.41,1048.02 L1549.46,1049.25 L1549.52,1050.48 L1549.58,1051.68 L1549.64,1052.88 L1549.69,1054.06 L1549.75,1055.22 L1549.81,1056.37 L1549.86,1057.51 L1549.92,1058.64 L1549.98,1059.75 L1550.03,1060.84 L1550.09,1061.92 L1550.15,1062.99 L1550.20,1064.05 L1550.26,1065.09 L1550.32,1066.12 L1550.38,1067.14 L1550.43,1068.14 L1550.49,1069.13 L1550.55,1070.10 L1550.60,1071.07 L1550.66,1072.02 L1550.72,1072.95 L1550.77,1073.88 L1550.83,1074.79 L1550.89,1075.69 L1550.94,1076.57 L1551.00,1077.45 L1551.06,1078.31 L1551.12,1079.16 L1551.17,1080.00 L1551.23,1080.83 L1551.29,1081.64 L1551.34,1082.44 L1551.40,1083.23 L1551.46,1084.01 L1551.51,1084.78 L1551.57,1085.53 L1551.63,1086.28 L1551.68,1087.01 L1551.74,1087.73 L1551.80,1088.45 L1551.86,1089.15 L1551.91,1089.84 L1551.97,1090.51 L1552.03,1091.18 L1552.08,1091.84 L1552.14,1092.49 L1552.20,1093.13 L1552.25,1093.75 L1552.31,1094.37 L1552.37,1094.98 L1552.42,1095.57 L1552.48,1096.16 L1552.54,1096.74 L1552.60,1097.31 L1552.65,1097.87 L1552.71,1098.42 L1552.77,1098.96 L1552.82,1099.49 L1552.88,1100.01 L1552.94,1100.52 L1552.99,1101.03 L1553.05,1101.52 L1553.11,1102.01 L1553.16,1102.49 L1553.22,1102.96 L1553.28,1103.42 L1553.34,1103.88 L1553.39,1104.32 L1553.45,1104.76 L1553.51,1105.19 L1553.56,1105.62 L1553.62,1106.03 L1553.68,1106.44 L1553.73,1106.84 L1553.79,1107.23 L1553.85,1107.62 L1553.90,1107.99 L1553.96,1108.37 L1554.02,1108.73 L1554.08,1109.09 L1554.13,1109.44 L1554.19,1109.78 L1554.25,1110.12 L1554.30,1110.45 L1554.36,1110.78 L1554.42,1111.10 L1554.47,1111.41 L1554.53,1111.71 L1554.59,1112.02 L1554.64,1112.31 L1554.70,1112.60 L1554.76,1112.88 L1554.81,1113.16 L1554.87,1113.43 L1554.93,1113.70 L1554.99,1113.96 L1555.04,1114.21 L1555.10,1114.46 L1555.16,1114.71 L1555.21,1114.95 L1555.27,1115.19 L1555.33,1115.42 L1555.38,1115.64 L1555.44,1115.86 L1555.50,1116.08 L1555.55,1116.29 L1555.61,1116.50 L1555.67,1116.70 L1555.73,1116.90 L1555.78,1117.10 L1555.84,1117.29 L1555.90,1117.47 L1555.95,1117.66 L1556.01,1117.84 L1556.07,1118.01 L1556.12,1118.18 L1556.18,1118.35 L1556.24,1118.51 L1556.29,1118.67 L1556.35,1118.83 L1556.41,1118.98 L1556.47,1119.13 L1556.52,1119.28 L1556.58,1119.42 L1556.64,1119.56 L1556.69,1119.69 L1556.75,1119.83 L1556.81,1119.96 L1556.86,1120.08 L1556.92,1120.21 L1556.98,1120.33 L1557.03,1120.45 L1557.09,1120.57 L1557.15,1120.68 L1557.21,1120.79 L1557.26,1120.90 L1557.32,1121.00 L1557.38,1121.11 L1557.43,1121.21 L1557.49,1121.30 L1557.55,1121.40 L1557.60,1121.49 L1557.66,1121.58 L1557.72,1121.67 L1557.77,1121.76 L1557.83,1121.85 L1557.89,1121.93 L1557.95,1122.01 L1558.00,1122.09 L1558.06,1122.16 L1558.12,1122.24 L1558.17,1122.31 L1558.23,1122.38 L1558.29,1122.45 L1558.34,1122.52 L1558.40,1122.59 L1558.46,1122.65 L1558.51,1122.71 L1558.57,1122.78 L1558.63,1122.83 L1558.69,1122.89 L1558.74,1122.95 L1558.80,1123.00 L1558.86,1123.06 L1558.91,1123.11 L1558.97,1123.16 L1559.03,1123.21 L1559.08,1123.26 L1559.14,1123.31 L1559.20,1123.35 L1559.25,1123.40 L1559.31,1123.44 L1559.37,1123.48 L1559.43,1123.52 L1559.48,1123.56 L1559.54,1123.60 L1559.60,1123.64 L1559.65,1123.68 L1559.71,1123.71 L1559.77,1123.75 L1559.82,1123.78 L1559.88,1123.82 L1559.94,1123.85 L1559.99,1123.88 L1560.05,1123.91 L1560.11,1123.94 L1560.17,1123.97 L1560.22,1124.00 L1560.28,1124.02 L1560.34,1124.05 L1560.39,1124.08 L1560.45,1124.10" fill="none" stroke="#6e478a" stroke-width="4.0" stroke-linejoin="round" stroke-linecap="butt" clip-path="url(#cf)"/>
<rect x="1526.30" y="718.65" width="502.20" height="406.25" fill="none" stroke="#000" stroke-width="2.8"/>
<line x1="1526.30" x2="1526.30" y1="1124.90" y2="1132.90" stroke="#000" stroke-width="2.7"/>
<line x1="1626.74" x2="1626.74" y1="1124.90" y2="1132.90" stroke="#000" stroke-width="2.7"/>
<line x1="1727.18" x2="1727.18" y1="1124.90" y2="1132.90" stroke="#000" stroke-width="2.7"/>
<line x1="1827.62" x2="1827.62" y1="1124.90" y2="1132.90" stroke="#000" stroke-width="2.7"/>
<line x1="1928.06" x2="1928.06" y1="1124.90" y2="1132.90" stroke="#000" stroke-width="2.7"/>
<line x1="2028.50" x2="2028.50" y1="1124.90" y2="1132.90" stroke="#000" stroke-width="2.7"/>
<line x1="1576.52" x2="1576.52" y1="1124.90" y2="1129.20" stroke="#000" stroke-width="2.7"/>
<line x1="1676.96" x2="1676.96" y1="1124.90" y2="1129.20" stroke="#000" stroke-width="2.7"/>
<line x1="1777.40" x2="1777.40" y1="1124.90" y2="1129.20" stroke="#000" stroke-width="2.7"/>
<line x1="1877.84" x2="1877.84" y1="1124.90" y2="1129.20" stroke="#000" stroke-width="2.7"/>
<line x1="1978.28" x2="1978.28" y1="1124.90" y2="1129.20" stroke="#000" stroke-width="2.7"/>
<text transform="translate(1526.3,1161.7) scale(1,1.035)" font-size="30.7" text-anchor="middle" stroke="#000" stroke-width="0.3" >0.0</text>
<text transform="translate(1626.7,1161.7) scale(1,1.035)" font-size="30.7" text-anchor="middle" stroke="#000" stroke-width="0.3" >0.2</text>
<text transform="translate(1727.2,1161.7) scale(1,1.035)" font-size="30.7" text-anchor="middle" stroke="#000" stroke-width="0.3" >0.4</text>
<text transform="translate(1827.6,1161.7) scale(1,1.035)" font-size="30.7" text-anchor="middle" stroke="#000" stroke-width="0.3" >0.6</text>
<text transform="translate(1928.1,1161.7) scale(1,1.035)" font-size="30.7" text-anchor="middle" stroke="#000" stroke-width="0.3" >0.8</text>
<text transform="translate(2028.5,1161.7) scale(1,1.035)" font-size="30.7" text-anchor="middle" stroke="#000" stroke-width="0.3" >1.0</text>
<line x1="1526.30" x2="1518.30" y1="1124.90" y2="1124.90" stroke="#000" stroke-width="2.7"/>
<line x1="1526.30" x2="1518.30" y1="1066.86" y2="1066.86" stroke="#000" stroke-width="2.7"/>
<line x1="1526.30" x2="1518.30" y1="1008.83" y2="1008.83" stroke="#000" stroke-width="2.7"/>
<line x1="1526.30" x2="1518.30" y1="950.79" y2="950.79" stroke="#000" stroke-width="2.7"/>
<line x1="1526.30" x2="1518.30" y1="892.76" y2="892.76" stroke="#000" stroke-width="2.7"/>
<line x1="1526.30" x2="1518.30" y1="834.72" y2="834.72" stroke="#000" stroke-width="2.7"/>
<line x1="1526.30" x2="1518.30" y1="776.69" y2="776.69" stroke="#000" stroke-width="2.7"/>
<line x1="1526.30" x2="1518.30" y1="718.65" y2="718.65" stroke="#000" stroke-width="2.7"/>
<line x1="1526.30" x2="1522.00" y1="1095.88" y2="1095.88" stroke="#000" stroke-width="2.7"/>
<line x1="1526.30" x2="1522.00" y1="1037.85" y2="1037.85" stroke="#000" stroke-width="2.7"/>
<line x1="1526.30" x2="1522.00" y1="979.81" y2="979.81" stroke="#000" stroke-width="2.7"/>
<line x1="1526.30" x2="1522.00" y1="921.78" y2="921.78" stroke="#000" stroke-width="2.7"/>
<line x1="1526.30" x2="1522.00" y1="863.74" y2="863.74" stroke="#000" stroke-width="2.7"/>
<line x1="1526.30" x2="1522.00" y1="805.70" y2="805.70" stroke="#000" stroke-width="2.7"/>
<line x1="1526.30" x2="1522.00" y1="747.67" y2="747.67" stroke="#000" stroke-width="2.7"/>
<text transform="translate(1513.3,1134.2) scale(1,1.035)" font-size="30.7" text-anchor="end" stroke="#000" stroke-width="0.3" >0</text>
<text transform="translate(1513.3,1076.2) scale(1,1.035)" font-size="30.7" text-anchor="end" stroke="#000" stroke-width="0.3" >10</text>
<text transform="translate(1513.3,1018.1) scale(1,1.035)" font-size="30.7" text-anchor="end" stroke="#000" stroke-width="0.3" >20</text>
<text transform="translate(1513.3,960.1) scale(1,1.035)" font-size="30.7" text-anchor="end" stroke="#000" stroke-width="0.3" >30</text>
<text transform="translate(1513.3,902.1) scale(1,1.035)" font-size="30.7" text-anchor="end" stroke="#000" stroke-width="0.3" >40</text>
<text transform="translate(1513.3,844.0) scale(1,1.035)" font-size="30.7" text-anchor="end" stroke="#000" stroke-width="0.3" >50</text>
<text transform="translate(1513.3,786.0) scale(1,1.035)" font-size="30.7" text-anchor="end" stroke="#000" stroke-width="0.3" >60</text>
<text transform="translate(1513.3,727.9) scale(1,1.035)" font-size="30.7" text-anchor="end" stroke="#000" stroke-width="0.3" >70</text>
<text transform="translate(1773.5,1211.6) scale(1,1.02)" font-size="33.5" text-anchor="middle" stroke="#000" stroke-width="0.3" >Hamming Distance</text>
<text transform="translate(1444.0,907.3) rotate(-90) scale(1,1.02)" font-size="33.5" text-anchor="middle" stroke="#000" stroke-width="0.3">Counts</text>
<text transform="translate(1600.1,792.0) scale(1.3,1)" font-size="34" font-family='"Liberation Serif", "DejaVu Serif", serif' font-style="italic">μ</text>
<text transform="translate(1629.2,792.0) scale(1,1.035)" font-size="34" stroke="#000" stroke-width="0.3">= 0.0219</text>
<text transform="translate(1602.7,831.9) scale(1.25,1)" font-size="34" font-family='"Liberation Serif", "DejaVu Serif", serif' font-style="italic">σ</text>
<text transform="translate(1629.7,831.9) scale(1,1.035)" font-size="34" stroke="#000" stroke-width="0.3">= 0.0126</text>
</svg>
</body></html>
